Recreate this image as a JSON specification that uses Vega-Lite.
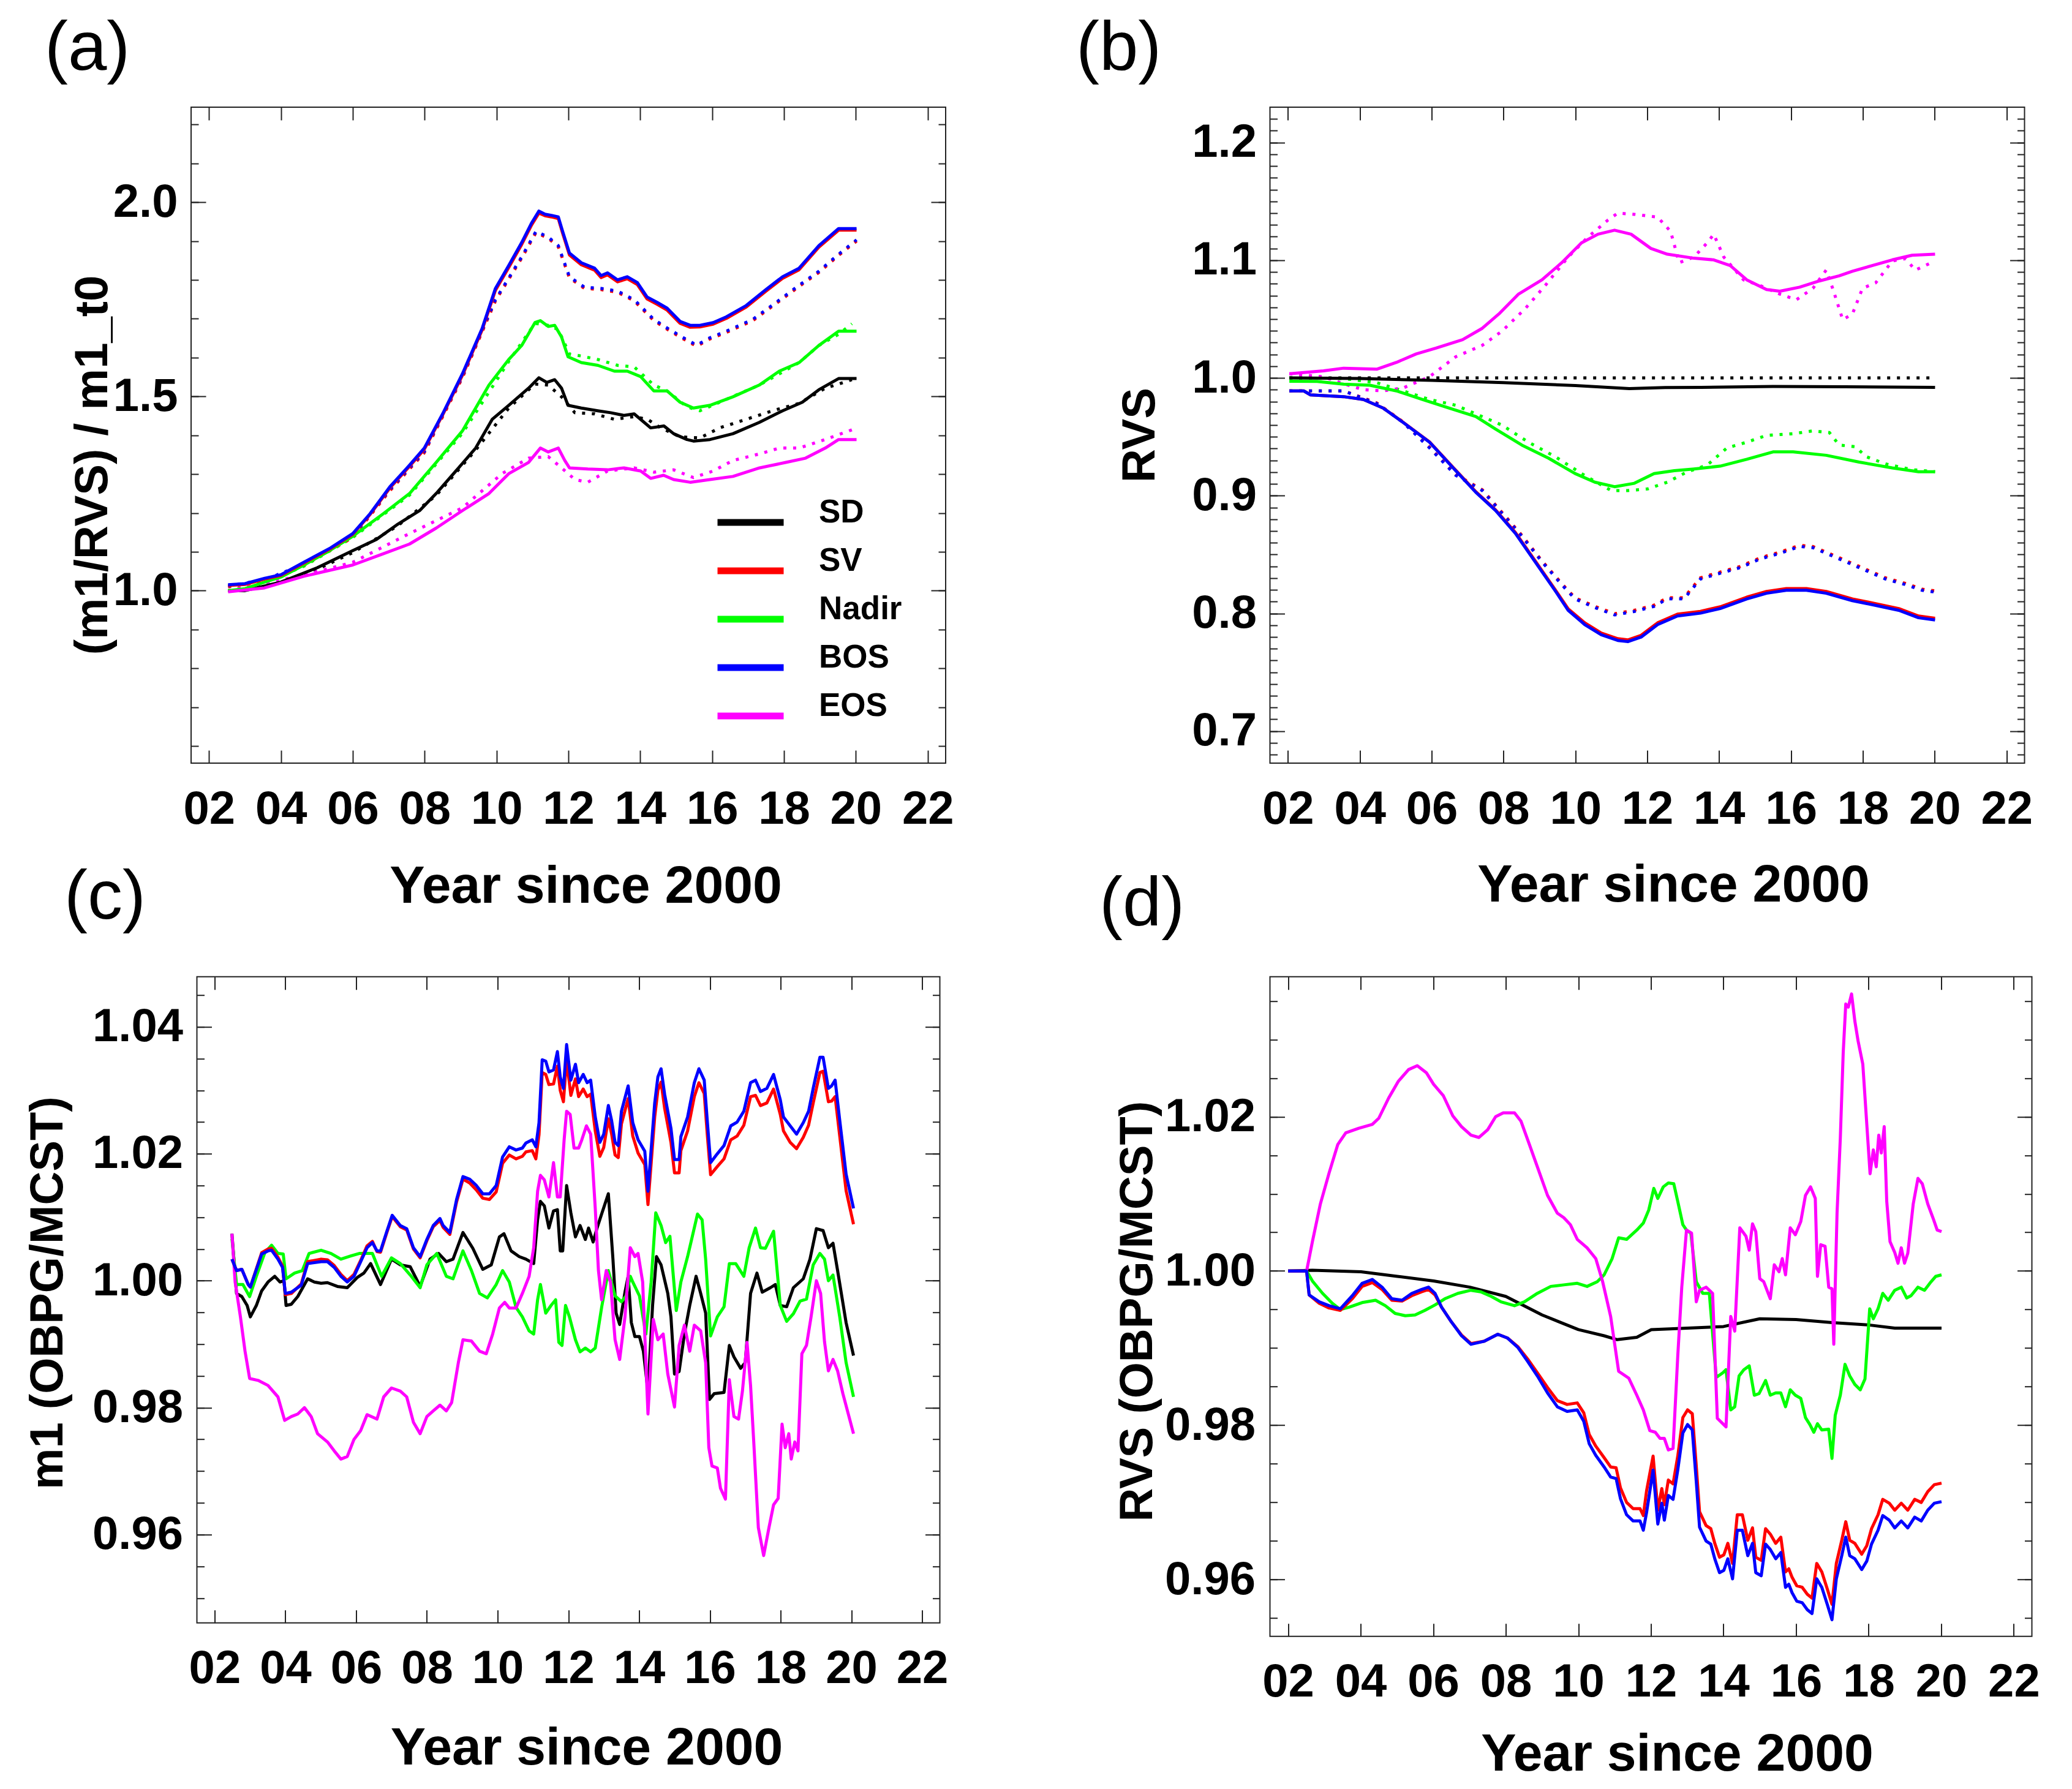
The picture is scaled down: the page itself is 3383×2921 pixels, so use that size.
{
"$schema":"https://vega.github.io/schema/vega-lite/v6.json",
"background":"white",
"padding":{"left":39,"top":22,"right":5,"bottom":0},
"datasets":{
"a_solid":[
{"s":"SD","x":2.53,"y":1.0},{"s":"SD","x":3.0,"y":1.0},{"s":"SD","x":4.0,"y":1.022},{"s":"SD","x":5.01,"y":1.059},{"s":"SD","x":6.0,"y":1.103},{"s":"SD","x":6.66,"y":1.132},{"s":"SD","x":7.22,"y":1.169},{"s":"SD","x":7.86,"y":1.206},{"s":"SD","x":8.32,"y":1.25},{"s":"SD","x":8.87,"y":1.308},{"s":"SD","x":9.42,"y":1.367},{"s":"SD","x":9.88,"y":1.441},{"s":"SD","x":10.34,"y":1.477},{"s":"SD","x":10.89,"y":1.521},{"s":"SD","x":11.18,"y":1.548},{"s":"SD","x":11.4,"y":1.536},{"s":"SD","x":11.62,"y":1.543},{"s":"SD","x":11.81,"y":1.521},{"s":"SD","x":11.99,"y":1.477},{"s":"SD","x":12.36,"y":1.47},{"s":"SD","x":12.82,"y":1.463},{"s":"SD","x":13.18,"y":1.458},{"s":"SD","x":13.55,"y":1.451},{"s":"SD","x":13.83,"y":1.455},{"s":"SD","x":14.29,"y":1.419},{"s":"SD","x":14.66,"y":1.424},{"s":"SD","x":14.93,"y":1.404},{"s":"SD","x":15.3,"y":1.389},{"s":"SD","x":15.48,"y":1.385},{"s":"SD","x":15.94,"y":1.389},{"s":"SD","x":16.58,"y":1.404},{"s":"SD","x":17.31,"y":1.433},{"s":"SD","x":17.96,"y":1.463},{"s":"SD","x":18.51,"y":1.485},{"s":"SD","x":18.97,"y":1.517},{"s":"SD","x":19.52,"y":1.546},{"s":"SD","x":20.02,"y":1.546},
{"s":"Nadir","x":2.53,"y":1.0},{"s":"Nadir","x":3.0,"y":1.005},{"s":"Nadir","x":3.55,"y":1.022},{"s":"Nadir","x":4.0,"y":1.035},{"s":"Nadir","x":4.64,"y":1.066},{"s":"Nadir","x":5.3,"y":1.1},{"s":"Nadir","x":6.0,"y":1.14},{"s":"Nadir","x":6.85,"y":1.198},{"s":"Nadir","x":7.58,"y":1.25},{"s":"Nadir","x":8.32,"y":1.33},{"s":"Nadir","x":9.05,"y":1.411},{"s":"Nadir","x":9.79,"y":1.529},{"s":"Nadir","x":10.34,"y":1.595},{"s":"Nadir","x":10.7,"y":1.631},{"s":"Nadir","x":11.07,"y":1.69},{"s":"Nadir","x":11.22,"y":1.695},{"s":"Nadir","x":11.44,"y":1.68},{"s":"Nadir","x":11.62,"y":1.683},{"s":"Nadir","x":11.81,"y":1.653},{"s":"Nadir","x":11.99,"y":1.602},{"s":"Nadir","x":12.36,"y":1.587},{"s":"Nadir","x":12.82,"y":1.58},{"s":"Nadir","x":13.28,"y":1.565},{"s":"Nadir","x":13.64,"y":1.565},{"s":"Nadir","x":14.01,"y":1.551},{"s":"Nadir","x":14.38,"y":1.514},{"s":"Nadir","x":14.75,"y":1.514},{"s":"Nadir","x":15.11,"y":1.485},{"s":"Nadir","x":15.48,"y":1.47},{"s":"Nadir","x":15.94,"y":1.477},{"s":"Nadir","x":16.58,"y":1.499},{"s":"Nadir","x":17.31,"y":1.529},{"s":"Nadir","x":17.87,"y":1.565},{"s":"Nadir","x":18.42,"y":1.587},{"s":"Nadir","x":18.97,"y":1.631},{"s":"Nadir","x":19.52,"y":1.668},{"s":"Nadir","x":20.02,"y":1.668},
{"s":"EOS","x":2.53,"y":0.997},{"s":"EOS","x":3.54,"y":1.007},{"s":"EOS","x":4.64,"y":1.037},{"s":"EOS","x":6.0,"y":1.066},{"s":"EOS","x":6.85,"y":1.095},{"s":"EOS","x":7.58,"y":1.12},{"s":"EOS","x":8.32,"y":1.161},{"s":"EOS","x":9.05,"y":1.206},{"s":"EOS","x":9.79,"y":1.25},{"s":"EOS","x":10.34,"y":1.301},{"s":"EOS","x":10.89,"y":1.33},{"s":"EOS","x":11.22,"y":1.367},{"s":"EOS","x":11.44,"y":1.357},{"s":"EOS","x":11.72,"y":1.367},{"s":"EOS","x":11.9,"y":1.335},{"s":"EOS","x":12.03,"y":1.316},{"s":"EOS","x":12.54,"y":1.313},{"s":"EOS","x":13.09,"y":1.311},{"s":"EOS","x":13.55,"y":1.316},{"s":"EOS","x":14.01,"y":1.308},{"s":"EOS","x":14.29,"y":1.289},{"s":"EOS","x":14.65,"y":1.297},{"s":"EOS","x":14.93,"y":1.286},{"s":"EOS","x":15.39,"y":1.279},{"s":"EOS","x":15.94,"y":1.286},{"s":"EOS","x":16.58,"y":1.294},{"s":"EOS","x":17.32,"y":1.316},{"s":"EOS","x":18.05,"y":1.33},{"s":"EOS","x":18.6,"y":1.341},{"s":"EOS","x":19.15,"y":1.367},{"s":"EOS","x":19.52,"y":1.389},{"s":"EOS","x":20.02,"y":1.389},
{"s":"SV","x":2.53,"y":1.013},{"s":"SV","x":3.0,"y":1.016},{"s":"SV","x":3.55,"y":1.03},{"s":"SV","x":4.0,"y":1.039},{"s":"SV","x":4.64,"y":1.071},{"s":"SV","x":5.38,"y":1.108},{"s":"SV","x":6.0,"y":1.145},{"s":"SV","x":6.48,"y":1.196},{"s":"SV","x":7.03,"y":1.264},{"s":"SV","x":7.58,"y":1.32},{"s":"SV","x":7.99,"y":1.364},{"s":"SV","x":8.5,"y":1.452},{"s":"SV","x":9.05,"y":1.554},{"s":"SV","x":9.6,"y":1.671},{"s":"SV","x":9.97,"y":1.773},{"s":"SV","x":10.34,"y":1.832},{"s":"SV","x":10.7,"y":1.891},{"s":"SV","x":10.98,"y":1.942},{"s":"SV","x":11.18,"y":1.972},{"s":"SV","x":11.35,"y":1.965},{"s":"SV","x":11.53,"y":1.962},{"s":"SV","x":11.72,"y":1.958},{"s":"SV","x":11.84,"y":1.92},{"s":"SV","x":12.03,"y":1.864},{"s":"SV","x":12.36,"y":1.839},{"s":"SV","x":12.73,"y":1.825},{"s":"SV","x":12.91,"y":1.806},{"s":"SV","x":13.09,"y":1.813},{"s":"SV","x":13.37,"y":1.795},{"s":"SV","x":13.64,"y":1.803},{"s":"SV","x":13.92,"y":1.788},{"s":"SV","x":14.19,"y":1.751},{"s":"SV","x":14.47,"y":1.737},{"s":"SV","x":14.75,"y":1.722},{"s":"SV","x":15.11,"y":1.688},{"s":"SV","x":15.39,"y":1.678},{"s":"SV","x":15.66,"y":1.679},{"s":"SV","x":16.03,"y":1.686},{"s":"SV","x":16.4,"y":1.701},{"s":"SV","x":16.95,"y":1.73},{"s":"SV","x":17.5,"y":1.771},{"s":"SV","x":17.96,"y":1.804},{"s":"SV","x":18.42,"y":1.826},{"s":"SV","x":18.97,"y":1.884},{"s":"SV","x":19.52,"y":1.928},{"s":"SV","x":20.02,"y":1.928},
{"s":"BOS","x":2.53,"y":1.015},{"s":"BOS","x":3.0,"y":1.018},{"s":"BOS","x":3.55,"y":1.032},{"s":"BOS","x":4.0,"y":1.041},{"s":"BOS","x":4.64,"y":1.073},{"s":"BOS","x":5.38,"y":1.11},{"s":"BOS","x":6.0,"y":1.147},{"s":"BOS","x":6.48,"y":1.198},{"s":"BOS","x":7.03,"y":1.267},{"s":"BOS","x":7.58,"y":1.323},{"s":"BOS","x":7.99,"y":1.367},{"s":"BOS","x":8.5,"y":1.455},{"s":"BOS","x":9.05,"y":1.558},{"s":"BOS","x":9.6,"y":1.675},{"s":"BOS","x":9.97,"y":1.778},{"s":"BOS","x":10.34,"y":1.837},{"s":"BOS","x":10.7,"y":1.896},{"s":"BOS","x":10.98,"y":1.947},{"s":"BOS","x":11.18,"y":1.977},{"s":"BOS","x":11.35,"y":1.969},{"s":"BOS","x":11.53,"y":1.966},{"s":"BOS","x":11.72,"y":1.962},{"s":"BOS","x":11.84,"y":1.925},{"s":"BOS","x":12.03,"y":1.869},{"s":"BOS","x":12.36,"y":1.844},{"s":"BOS","x":12.73,"y":1.83},{"s":"BOS","x":12.91,"y":1.811},{"s":"BOS","x":13.09,"y":1.818},{"s":"BOS","x":13.37,"y":1.8},{"s":"BOS","x":13.64,"y":1.808},{"s":"BOS","x":13.92,"y":1.793},{"s":"BOS","x":14.19,"y":1.756},{"s":"BOS","x":14.47,"y":1.742},{"s":"BOS","x":14.75,"y":1.727},{"s":"BOS","x":15.11,"y":1.693},{"s":"BOS","x":15.39,"y":1.683},{"s":"BOS","x":15.66,"y":1.683},{"s":"BOS","x":16.03,"y":1.69},{"s":"BOS","x":16.4,"y":1.705},{"s":"BOS","x":16.95,"y":1.734},{"s":"BOS","x":17.5,"y":1.775},{"s":"BOS","x":17.96,"y":1.808},{"s":"BOS","x":18.42,"y":1.83},{"s":"BOS","x":18.97,"y":1.888},{"s":"BOS","x":19.52,"y":1.932},{"s":"BOS","x":20.02,"y":1.932}
],
"a_dot":[
{"s":"SD","x":2.53,"y":1.0},{"s":"SD","x":4.0,"y":1.02},{"s":"SD","x":5.01,"y":1.055},{"s":"SD","x":6.0,"y":1.098},{"s":"SD","x":7.22,"y":1.165},{"s":"SD","x":8.32,"y":1.245},{"s":"SD","x":9.42,"y":1.362},{"s":"SD","x":10.34,"y":1.47},{"s":"SD","x":11.07,"y":1.532},{"s":"SD","x":11.44,"y":1.529},{"s":"SD","x":11.81,"y":1.499},{"s":"SD","x":12.18,"y":1.458},{"s":"SD","x":12.73,"y":1.455},{"s":"SD","x":13.28,"y":1.441},{"s":"SD","x":13.83,"y":1.448},{"s":"SD","x":14.2,"y":1.441},{"s":"SD","x":14.57,"y":1.419},{"s":"SD","x":15.11,"y":1.396},{"s":"SD","x":15.66,"y":1.393},{"s":"SD","x":16.21,"y":1.419},{"s":"SD","x":16.95,"y":1.441},{"s":"SD","x":17.68,"y":1.463},{"s":"SD","x":18.42,"y":1.482},{"s":"SD","x":19.15,"y":1.521},{"s":"SD","x":19.89,"y":1.543},
{"s":"Nadir","x":2.53,"y":1.0},{"s":"Nadir","x":3.55,"y":1.02},{"s":"Nadir","x":4.64,"y":1.063},{"s":"Nadir","x":6.0,"y":1.137},{"s":"Nadir","x":7.58,"y":1.246},{"s":"Nadir","x":9.05,"y":1.405},{"s":"Nadir","x":10.34,"y":1.59},{"s":"Nadir","x":11.07,"y":1.688},{"s":"Nadir","x":11.44,"y":1.683},{"s":"Nadir","x":11.72,"y":1.672},{"s":"Nadir","x":12.03,"y":1.609},{"s":"Nadir","x":12.36,"y":1.604},{"s":"Nadir","x":12.82,"y":1.595},{"s":"Nadir","x":13.37,"y":1.58},{"s":"Nadir","x":13.83,"y":1.576},{"s":"Nadir","x":14.38,"y":1.529},{"s":"Nadir","x":14.75,"y":1.514},{"s":"Nadir","x":15.3,"y":1.473},{"s":"Nadir","x":15.66,"y":1.463},{"s":"Nadir","x":16.21,"y":1.485},{"s":"Nadir","x":16.76,"y":1.507},{"s":"Nadir","x":17.31,"y":1.529},{"s":"Nadir","x":17.87,"y":1.558},{"s":"Nadir","x":18.42,"y":1.587},{"s":"Nadir","x":18.97,"y":1.631},{"s":"Nadir","x":19.52,"y":1.66},{"s":"Nadir","x":19.89,"y":1.687},
{"s":"EOS","x":2.53,"y":1.0},{"s":"EOS","x":4.64,"y":1.04},{"s":"EOS","x":6.0,"y":1.073},{"s":"EOS","x":7.58,"y":1.147},{"s":"EOS","x":9.05,"y":1.213},{"s":"EOS","x":10.15,"y":1.301},{"s":"EOS","x":10.89,"y":1.341},{"s":"EOS","x":11.44,"y":1.345},{"s":"EOS","x":11.81,"y":1.316},{"s":"EOS","x":12.18,"y":1.286},{"s":"EOS","x":12.54,"y":1.279},{"s":"EOS","x":13.09,"y":1.308},{"s":"EOS","x":13.83,"y":1.316},{"s":"EOS","x":14.38,"y":1.305},{"s":"EOS","x":14.93,"y":1.311},{"s":"EOS","x":15.48,"y":1.291},{"s":"EOS","x":16.03,"y":1.308},{"s":"EOS","x":16.58,"y":1.335},{"s":"EOS","x":17.32,"y":1.352},{"s":"EOS","x":17.87,"y":1.367},{"s":"EOS","x":18.42,"y":1.367},{"s":"EOS","x":19.15,"y":1.389},{"s":"EOS","x":19.89,"y":1.414},
{"s":"SV","x":2.53,"y":1.01},{"s":"SV","x":3.55,"y":1.025},{"s":"SV","x":4.64,"y":1.065},{"s":"SV","x":6.0,"y":1.137},{"s":"SV","x":7.03,"y":1.257},{"s":"SV","x":7.99,"y":1.355},{"s":"SV","x":9.05,"y":1.548},{"s":"SV","x":9.97,"y":1.746},{"s":"SV","x":10.7,"y":1.856},{"s":"SV","x":11.1,"y":1.922},{"s":"SV","x":11.44,"y":1.907},{"s":"SV","x":11.72,"y":1.885},{"s":"SV","x":12.03,"y":1.805},{"s":"SV","x":12.45,"y":1.778},{"s":"SV","x":12.91,"y":1.775},{"s":"SV","x":13.37,"y":1.768},{"s":"SV","x":13.83,"y":1.746},{"s":"SV","x":14.38,"y":1.695},{"s":"SV","x":14.75,"y":1.673},{"s":"SV","x":15.2,"y":1.648},{"s":"SV","x":15.57,"y":1.629},{"s":"SV","x":15.94,"y":1.648},{"s":"SV","x":16.4,"y":1.665},{"s":"SV","x":17.13,"y":1.695},{"s":"SV","x":17.78,"y":1.739},{"s":"SV","x":18.42,"y":1.783},{"s":"SV","x":18.97,"y":1.819},{"s":"SV","x":19.52,"y":1.863},{"s":"SV","x":20.02,"y":1.9},
{"s":"BOS","x":2.53,"y":1.012},{"s":"BOS","x":3.55,"y":1.028},{"s":"BOS","x":4.64,"y":1.068},{"s":"BOS","x":6.0,"y":1.14},{"s":"BOS","x":7.03,"y":1.26},{"s":"BOS","x":7.99,"y":1.358},{"s":"BOS","x":9.05,"y":1.551},{"s":"BOS","x":9.97,"y":1.749},{"s":"BOS","x":10.7,"y":1.859},{"s":"BOS","x":11.1,"y":1.925},{"s":"BOS","x":11.44,"y":1.91},{"s":"BOS","x":11.72,"y":1.888},{"s":"BOS","x":12.03,"y":1.808},{"s":"BOS","x":12.45,"y":1.781},{"s":"BOS","x":12.91,"y":1.778},{"s":"BOS","x":13.37,"y":1.771},{"s":"BOS","x":13.83,"y":1.749},{"s":"BOS","x":14.38,"y":1.698},{"s":"BOS","x":14.75,"y":1.676},{"s":"BOS","x":15.2,"y":1.651},{"s":"BOS","x":15.57,"y":1.632},{"s":"BOS","x":15.94,"y":1.651},{"s":"BOS","x":16.4,"y":1.668},{"s":"BOS","x":17.13,"y":1.698},{"s":"BOS","x":17.78,"y":1.742},{"s":"BOS","x":18.42,"y":1.786},{"s":"BOS","x":18.97,"y":1.822},{"s":"BOS","x":19.52,"y":1.866},{"s":"BOS","x":20.02,"y":1.903}
],
"b_solid":[
{"s":"SD","x":2.04,"y":1.0},{"s":"SD","x":4.0,"y":0.9995},{"s":"SD","x":6.0,"y":0.998},{"s":"SD","x":8.0,"y":0.996},{"s":"SD","x":10.0,"y":0.9935},{"s":"SD","x":11.5,"y":0.991},{"s":"SD","x":12.5,"y":0.9918},{"s":"SD","x":13.5,"y":0.992},{"s":"SD","x":15.5,"y":0.9928},{"s":"SD","x":17.5,"y":0.9925},{"s":"SD","x":20.01,"y":0.992},
{"s":"Nadir","x":2.04,"y":0.9972},{"s":"Nadir","x":2.81,"y":0.997},{"s":"Nadir","x":3.55,"y":0.9947},{"s":"Nadir","x":4.28,"y":0.9938},{"s":"Nadir","x":5.02,"y":0.989},{"s":"Nadir","x":5.75,"y":0.9817},{"s":"Nadir","x":6.49,"y":0.9744},{"s":"Nadir","x":7.23,"y":0.9672},{"s":"Nadir","x":7.78,"y":0.9565},{"s":"Nadir","x":8.51,"y":0.943},{"s":"Nadir","x":9.25,"y":0.9319},{"s":"Nadir","x":9.99,"y":0.9188},{"s":"Nadir","x":10.54,"y":0.9115},{"s":"Nadir","x":11.09,"y":0.9076},{"s":"Nadir","x":11.64,"y":0.9105},{"s":"Nadir","x":12.19,"y":0.9188},{"s":"Nadir","x":12.75,"y":0.9212},{"s":"Nadir","x":13.3,"y":0.9227},{"s":"Nadir","x":14.03,"y":0.9251},{"s":"Nadir","x":14.77,"y":0.9309},{"s":"Nadir","x":15.5,"y":0.9372},{"s":"Nadir","x":16.06,"y":0.9372},{"s":"Nadir","x":16.98,"y":0.9343},{"s":"Nadir","x":17.9,"y":0.9285},{"s":"Nadir","x":18.82,"y":0.9236},{"s":"Nadir","x":19.55,"y":0.9203},{"s":"Nadir","x":20.01,"y":0.9203},
{"s":"EOS","x":2.04,"y":1.0035},{"s":"EOS","x":2.99,"y":1.006},{"s":"EOS","x":3.55,"y":1.0083},{"s":"EOS","x":4.47,"y":1.0074},{"s":"EOS","x":5.02,"y":1.0132},{"s":"EOS","x":5.57,"y":1.0204},{"s":"EOS","x":6.12,"y":1.0253},{"s":"EOS","x":6.86,"y":1.0325},{"s":"EOS","x":7.41,"y":1.0422},{"s":"EOS","x":7.87,"y":1.0543},{"s":"EOS","x":8.42,"y":1.0713},{"s":"EOS","x":9.07,"y":1.0833},{"s":"EOS","x":9.62,"y":1.0979},{"s":"EOS","x":10.17,"y":1.1148},{"s":"EOS","x":10.63,"y":1.1221},{"s":"EOS","x":11.09,"y":1.1255},{"s":"EOS","x":11.55,"y":1.1221},{"s":"EOS","x":12.1,"y":1.11},{"s":"EOS","x":12.56,"y":1.1051},{"s":"EOS","x":13.3,"y":1.1017},{"s":"EOS","x":13.85,"y":1.1003},{"s":"EOS","x":14.31,"y":1.0954},{"s":"EOS","x":14.77,"y":1.0833},{"s":"EOS","x":15.32,"y":1.0751},{"s":"EOS","x":15.69,"y":1.0737},{"s":"EOS","x":16.24,"y":1.0771},{"s":"EOS","x":16.79,"y":1.0824},{"s":"EOS","x":17.34,"y":1.0867},{"s":"EOS","x":17.71,"y":1.0906},{"s":"EOS","x":18.26,"y":1.0954},{"s":"EOS","x":18.82,"y":1.1003},{"s":"EOS","x":19.37,"y":1.1042},{"s":"EOS","x":20.01,"y":1.1051},
{"s":"SV","x":2.04,"y":0.989},{"s":"SV","x":2.44,"y":0.989},{"s":"SV","x":2.63,"y":0.9856},{"s":"SV","x":3.55,"y":0.9841},{"s":"SV","x":4.1,"y":0.9817},{"s":"SV","x":4.65,"y":0.9744},{"s":"SV","x":5.2,"y":0.9625},{"s":"SV","x":5.94,"y":0.9457},{"s":"SV","x":6.67,"y":0.9216},{"s":"SV","x":7.23,"y":0.9033},{"s":"SV","x":7.78,"y":0.8879},{"s":"SV","x":8.33,"y":0.8687},{"s":"SV","x":8.88,"y":0.8446},{"s":"SV","x":9.43,"y":0.8205},{"s":"SV","x":9.8,"y":0.8038},{"s":"SV","x":10.26,"y":0.792},{"s":"SV","x":10.72,"y":0.7833},{"s":"SV","x":11.18,"y":0.7785},{"s":"SV","x":11.46,"y":0.7775},{"s":"SV","x":11.83,"y":0.7814},{"s":"SV","x":12.29,"y":0.792},{"s":"SV","x":12.84,"y":0.7993},{"s":"SV","x":13.48,"y":0.8017},{"s":"SV","x":14.03,"y":0.8056},{"s":"SV","x":14.77,"y":0.8138},{"s":"SV","x":15.32,"y":0.8186},{"s":"SV","x":15.87,"y":0.8211},{"s":"SV","x":16.43,"y":0.8211},{"s":"SV","x":16.98,"y":0.8186},{"s":"SV","x":17.71,"y":0.8123},{"s":"SV","x":18.26,"y":0.8089},{"s":"SV","x":19.0,"y":0.8041},{"s":"SV","x":19.55,"y":0.7978},{"s":"SV","x":20.01,"y":0.7959},
{"s":"BOS","x":2.04,"y":0.989},{"s":"BOS","x":2.44,"y":0.989},{"s":"BOS","x":2.63,"y":0.9856},{"s":"BOS","x":3.55,"y":0.9841},{"s":"BOS","x":4.1,"y":0.9817},{"s":"BOS","x":4.65,"y":0.9744},{"s":"BOS","x":5.2,"y":0.9623},{"s":"BOS","x":5.94,"y":0.9454},{"s":"BOS","x":6.67,"y":0.9212},{"s":"BOS","x":7.23,"y":0.9028},{"s":"BOS","x":7.78,"y":0.8873},{"s":"BOS","x":8.33,"y":0.868},{"s":"BOS","x":8.88,"y":0.8438},{"s":"BOS","x":9.43,"y":0.8196},{"s":"BOS","x":9.8,"y":0.8026},{"s":"BOS","x":10.26,"y":0.7905},{"s":"BOS","x":10.72,"y":0.7818},{"s":"BOS","x":11.18,"y":0.777},{"s":"BOS","x":11.46,"y":0.776},{"s":"BOS","x":11.83,"y":0.7799},{"s":"BOS","x":12.29,"y":0.7905},{"s":"BOS","x":12.84,"y":0.7978},{"s":"BOS","x":13.48,"y":0.8002},{"s":"BOS","x":14.03,"y":0.8041},{"s":"BOS","x":14.77,"y":0.8123},{"s":"BOS","x":15.32,"y":0.8171},{"s":"BOS","x":15.87,"y":0.8196},{"s":"BOS","x":16.43,"y":0.8196},{"s":"BOS","x":16.98,"y":0.8171},{"s":"BOS","x":17.71,"y":0.8108},{"s":"BOS","x":18.26,"y":0.8074},{"s":"BOS","x":19.0,"y":0.8026},{"s":"BOS","x":19.55,"y":0.7963},{"s":"BOS","x":20.01,"y":0.7944}
],
"b_dot":[
{"s":"SD","x":2.04,"y":1.0},{"s":"SD","x":20.01,"y":1.0},
{"s":"Nadir","x":2.04,"y":1.0},{"s":"Nadir","x":3.55,"y":0.9995},{"s":"Nadir","x":4.47,"y":0.996},{"s":"Nadir","x":5.2,"y":0.989},{"s":"Nadir","x":5.94,"y":0.9817},{"s":"Nadir","x":6.67,"y":0.9768},{"s":"Nadir","x":7.41,"y":0.9671},{"s":"Nadir","x":7.96,"y":0.9599},{"s":"Nadir","x":8.7,"y":0.9453},{"s":"Nadir","x":9.43,"y":0.9333},{"s":"Nadir","x":10.17,"y":0.9188},{"s":"Nadir","x":10.72,"y":0.9091},{"s":"Nadir","x":11.0,"y":0.9043},{"s":"Nadir","x":11.46,"y":0.9043},{"s":"Nadir","x":12.01,"y":0.9057},{"s":"Nadir","x":12.56,"y":0.9115},{"s":"Nadir","x":13.11,"y":0.9202},{"s":"Nadir","x":13.67,"y":0.926},{"s":"Nadir","x":14.22,"y":0.9406},{"s":"Nadir","x":14.77,"y":0.9454},{"s":"Nadir","x":15.32,"y":0.9512},{"s":"Nadir","x":16.06,"y":0.9526},{"s":"Nadir","x":16.61,"y":0.955},{"s":"Nadir","x":17.07,"y":0.9536},{"s":"Nadir","x":17.34,"y":0.943},{"s":"Nadir","x":17.8,"y":0.9415},{"s":"Nadir","x":18.08,"y":0.9333},{"s":"Nadir","x":18.63,"y":0.927},{"s":"Nadir","x":19.37,"y":0.9221},{"s":"Nadir","x":20.01,"y":0.9203},
{"s":"EOS","x":2.04,"y":1.0035},{"s":"EOS","x":2.99,"y":1.001},{"s":"EOS","x":3.55,"y":0.995},{"s":"EOS","x":4.1,"y":0.99},{"s":"EOS","x":4.65,"y":0.989},{"s":"EOS","x":5.2,"y":0.9914},{"s":"EOS","x":5.94,"y":1.001},{"s":"EOS","x":6.67,"y":1.018},{"s":"EOS","x":7.41,"y":1.0277},{"s":"EOS","x":7.96,"y":1.0398},{"s":"EOS","x":8.61,"y":1.0591},{"s":"EOS","x":9.16,"y":1.0785},{"s":"EOS","x":9.8,"y":1.1027},{"s":"EOS","x":10.35,"y":1.1197},{"s":"EOS","x":10.91,"y":1.1342},{"s":"EOS","x":11.18,"y":1.14},{"s":"EOS","x":11.64,"y":1.139},{"s":"EOS","x":12.29,"y":1.1366},{"s":"EOS","x":12.65,"y":1.1245},{"s":"EOS","x":12.89,"y":1.0979},{"s":"EOS","x":13.3,"y":1.1027},{"s":"EOS","x":13.67,"y":1.1148},{"s":"EOS","x":13.85,"y":1.1221},{"s":"EOS","x":14.13,"y":1.1027},{"s":"EOS","x":14.68,"y":1.0833},{"s":"EOS","x":15.14,"y":1.0785},{"s":"EOS","x":15.69,"y":1.0712},{"s":"EOS","x":16.15,"y":1.0664},{"s":"EOS","x":16.61,"y":1.0761},{"s":"EOS","x":16.98,"y":1.0916},{"s":"EOS","x":17.16,"y":1.0761},{"s":"EOS","x":17.44,"y":1.0495},{"s":"EOS","x":17.71,"y":1.0543},{"s":"EOS","x":17.99,"y":1.0761},{"s":"EOS","x":18.36,"y":1.0809},{"s":"EOS","x":18.82,"y":1.0994},{"s":"EOS","x":19.19,"y":1.1013},{"s":"EOS","x":19.46,"y":1.0916},{"s":"EOS","x":20.01,"y":1.0994},
{"s":"SV","x":2.04,"y":0.989},{"s":"SV","x":3.55,"y":0.989},{"s":"SV","x":4.47,"y":0.9788},{"s":"SV","x":5.2,"y":0.9628},{"s":"SV","x":5.94,"y":0.9412},{"s":"SV","x":6.67,"y":0.918},{"s":"SV","x":7.41,"y":0.905},{"s":"SV","x":7.96,"y":0.8857},{"s":"SV","x":8.51,"y":0.8663},{"s":"SV","x":9.07,"y":0.8446},{"s":"SV","x":9.62,"y":0.8253},{"s":"SV","x":9.99,"y":0.8132},{"s":"SV","x":10.54,"y":0.806},{"s":"SV","x":11.09,"y":0.7997},{"s":"SV","x":11.64,"y":0.8026},{"s":"SV","x":12.19,"y":0.807},{"s":"SV","x":12.56,"y":0.8133},{"s":"SV","x":13.02,"y":0.8133},{"s":"SV","x":13.48,"y":0.8302},{"s":"SV","x":14.03,"y":0.8351},{"s":"SV","x":14.59,"y":0.8399},{"s":"SV","x":15.14,"y":0.8472},{"s":"SV","x":15.69,"y":0.852},{"s":"SV","x":16.24,"y":0.8578},{"s":"SV","x":16.61,"y":0.8568},{"s":"SV","x":16.98,"y":0.852},{"s":"SV","x":17.53,"y":0.8448},{"s":"SV","x":18.08,"y":0.8375},{"s":"SV","x":18.63,"y":0.8302},{"s":"SV","x":19.19,"y":0.8254},{"s":"SV","x":19.65,"y":0.8206},{"s":"SV","x":20.01,"y":0.8191},
{"s":"BOS","x":2.04,"y":0.989},{"s":"BOS","x":3.55,"y":0.989},{"s":"BOS","x":4.47,"y":0.9783},{"s":"BOS","x":5.2,"y":0.9623},{"s":"BOS","x":5.94,"y":0.9406},{"s":"BOS","x":6.67,"y":0.9173},{"s":"BOS","x":7.41,"y":0.9043},{"s":"BOS","x":7.96,"y":0.8849},{"s":"BOS","x":8.51,"y":0.8655},{"s":"BOS","x":9.07,"y":0.8438},{"s":"BOS","x":9.62,"y":0.8244},{"s":"BOS","x":9.99,"y":0.8123},{"s":"BOS","x":10.54,"y":0.805},{"s":"BOS","x":11.09,"y":0.7987},{"s":"BOS","x":11.64,"y":0.8016},{"s":"BOS","x":12.19,"y":0.806},{"s":"BOS","x":12.56,"y":0.8123},{"s":"BOS","x":13.02,"y":0.8123},{"s":"BOS","x":13.48,"y":0.8292},{"s":"BOS","x":14.03,"y":0.8341},{"s":"BOS","x":14.59,"y":0.8389},{"s":"BOS","x":15.14,"y":0.8462},{"s":"BOS","x":15.69,"y":0.851},{"s":"BOS","x":16.24,"y":0.8568},{"s":"BOS","x":16.61,"y":0.8558},{"s":"BOS","x":16.98,"y":0.851},{"s":"BOS","x":17.53,"y":0.8438},{"s":"BOS","x":18.08,"y":0.8365},{"s":"BOS","x":18.63,"y":0.8292},{"s":"BOS","x":19.19,"y":0.8244},{"s":"BOS","x":19.65,"y":0.8196},{"s":"BOS","x":20.01,"y":0.8181}
],
"c":[
{"s":"SD","x":2.49,"y":1.0074},{"s":"SD","x":2.62,"y":0.998},{"s":"SD","x":2.77,"y":0.9975},{"s":"SD","x":2.92,"y":0.9961},{"s":"SD","x":3.01,"y":0.9943},{"s":"SD","x":3.18,"y":0.9961},{"s":"SD","x":3.33,"y":0.9984},{"s":"SD","x":3.51,"y":0.9998},{"s":"SD","x":3.7,"y":1.0007},{"s":"SD","x":3.85,"y":0.9998},{"s":"SD","x":3.96,"y":1.0},{"s":"SD","x":4.02,"y":0.9961},{"s":"SD","x":4.17,"y":0.9963},{"s":"SD","x":4.35,"y":0.9975},{"s":"SD","x":4.63,"y":1.0003},{"s":"SD","x":4.82,"y":0.9998},{"s":"SD","x":5.01,"y":0.9996},{"s":"SD","x":5.19,"y":0.9997},{"s":"SD","x":5.47,"y":0.9991},{"s":"SD","x":5.75,"y":0.9989},{"s":"SD","x":6.03,"y":1.0005},{"s":"SD","x":6.22,"y":1.0012},{"s":"SD","x":6.41,"y":1.0027},{"s":"SD","x":6.69,"y":0.9994},{"s":"SD","x":7.0,"y":1.0034},{"s":"SD","x":7.25,"y":1.0025},{"s":"SD","x":7.53,"y":1.0022},{"s":"SD","x":7.81,"y":0.9991},{"s":"SD","x":8.09,"y":1.0034},{"s":"SD","x":8.33,"y":1.0043},{"s":"SD","x":8.55,"y":1.003},{"s":"SD","x":8.74,"y":1.0034},{"s":"SD","x":9.02,"y":1.0076},{"s":"SD","x":9.3,"y":1.0051},{"s":"SD","x":9.58,"y":1.0018},{"s":"SD","x":9.82,"y":1.0025},{"s":"SD","x":10.05,"y":1.0069},{"s":"SD","x":10.18,"y":1.0074},{"s":"SD","x":10.38,"y":1.0047},{"s":"SD","x":10.61,"y":1.0038},{"s":"SD","x":10.8,"y":1.0034},{"s":"SD","x":11.02,"y":1.0027},{"s":"SD","x":11.13,"y":1.0096},{"s":"SD","x":11.21,"y":1.0125},{"s":"SD","x":11.32,"y":1.0118},{"s":"SD","x":11.45,"y":1.0083},{"s":"SD","x":11.58,"y":1.011},{"s":"SD","x":11.69,"y":1.0112},{"s":"SD","x":11.77,"y":1.0047},{"s":"SD","x":11.84,"y":1.0047},{"s":"SD","x":11.95,"y":1.015},{"s":"SD","x":12.07,"y":1.0107},{"s":"SD","x":12.2,"y":1.0069},{"s":"SD","x":12.33,"y":1.0087},{"s":"SD","x":12.48,"y":1.0065},{"s":"SD","x":12.57,"y":1.0083},{"s":"SD","x":12.7,"y":1.0061},{"s":"SD","x":12.81,"y":1.0083},{"s":"SD","x":12.94,"y":1.0105},{"s":"SD","x":13.13,"y":1.0137},{"s":"SD","x":13.26,"y":1.0034},{"s":"SD","x":13.35,"y":0.9949},{"s":"SD","x":13.45,"y":0.9931},{"s":"SD","x":13.6,"y":0.9982},{"s":"SD","x":13.69,"y":1.0007},{"s":"SD","x":13.78,"y":0.9934},{"s":"SD","x":13.88,"y":0.9912},{"s":"SD","x":14.01,"y":0.9912},{"s":"SD","x":14.12,"y":0.9889},{"s":"SD","x":14.25,"y":0.9826},{"s":"SD","x":14.38,"y":0.9961},{"s":"SD","x":14.49,"y":1.0038},{"s":"SD","x":14.62,"y":1.0025},{"s":"SD","x":14.81,"y":0.998},{"s":"SD","x":14.9,"y":0.9943},{"s":"SD","x":15.0,"y":0.9853},{"s":"SD","x":15.13,"y":0.9857},{"s":"SD","x":15.28,"y":0.9916},{"s":"SD","x":15.43,"y":0.9961},{"s":"SD","x":15.61,"y":1.0007},{"s":"SD","x":15.74,"y":0.998},{"s":"SD","x":15.88,"y":0.9949},{"s":"SD","x":15.99,"y":0.9813},{"s":"SD","x":16.12,"y":0.9822},{"s":"SD","x":16.4,"y":0.9824},{"s":"SD","x":16.55,"y":0.9898},{"s":"SD","x":16.68,"y":0.988},{"s":"SD","x":16.87,"y":0.9862},{"s":"SD","x":17.0,"y":0.9871},{"s":"SD","x":17.15,"y":0.998},{"s":"SD","x":17.33,"y":1.0012},{"s":"SD","x":17.48,"y":0.9982},{"s":"SD","x":17.71,"y":0.9989},{"s":"SD","x":17.85,"y":0.9994},{"s":"SD","x":17.99,"y":0.9961},{"s":"SD","x":18.17,"y":0.9959},{"s":"SD","x":18.36,"y":0.9989},{"s":"SD","x":18.64,"y":1.0003},{"s":"SD","x":18.83,"y":1.0034},{"s":"SD","x":19.01,"y":1.0082},{"s":"SD","x":19.2,"y":1.0079},{"s":"SD","x":19.35,"y":1.0052},{"s":"SD","x":19.48,"y":1.0059},{"s":"SD","x":19.61,"y":1.0016},{"s":"SD","x":19.85,"y":0.9934},{"s":"SD","x":20.06,"y":0.9882},
{"s":"Nadir","x":2.49,"y":1.0066},{"s":"Nadir","x":2.62,"y":0.9994},{"s":"Nadir","x":2.8,"y":0.9994},{"s":"Nadir","x":2.99,"y":0.9975},{"s":"Nadir","x":3.18,"y":1.0007},{"s":"Nadir","x":3.42,"y":1.0044},{"s":"Nadir","x":3.61,"y":1.0056},{"s":"Nadir","x":3.79,"y":1.0043},{"s":"Nadir","x":3.94,"y":1.0042},{"s":"Nadir","x":4.02,"y":1.0003},{"s":"Nadir","x":4.26,"y":1.0012},{"s":"Nadir","x":4.48,"y":1.0016},{"s":"Nadir","x":4.67,"y":1.0043},{"s":"Nadir","x":5.01,"y":1.0048},{"s":"Nadir","x":5.29,"y":1.0043},{"s":"Nadir","x":5.57,"y":1.0034},{"s":"Nadir","x":5.85,"y":1.0039},{"s":"Nadir","x":6.09,"y":1.0043},{"s":"Nadir","x":6.31,"y":1.0043},{"s":"Nadir","x":6.46,"y":1.0043},{"s":"Nadir","x":6.72,"y":1.0007},{"s":"Nadir","x":7.0,"y":1.0036},{"s":"Nadir","x":7.25,"y":1.0027},{"s":"Nadir","x":7.53,"y":1.0009},{"s":"Nadir","x":7.81,"y":0.9989},{"s":"Nadir","x":8.0,"y":1.0025},{"s":"Nadir","x":8.28,"y":1.0043},{"s":"Nadir","x":8.55,"y":1.0007},{"s":"Nadir","x":8.74,"y":1.0003},{"s":"Nadir","x":9.02,"y":1.0047},{"s":"Nadir","x":9.26,"y":1.0016},{"s":"Nadir","x":9.49,"y":0.998},{"s":"Nadir","x":9.71,"y":0.9973},{"s":"Nadir","x":9.96,"y":0.9994},{"s":"Nadir","x":10.14,"y":1.0016},{"s":"Nadir","x":10.33,"y":0.9998},{"s":"Nadir","x":10.52,"y":0.9958},{"s":"Nadir","x":10.7,"y":0.9943},{"s":"Nadir","x":10.89,"y":0.9921},{"s":"Nadir","x":11.02,"y":0.9916},{"s":"Nadir","x":11.13,"y":0.997},{"s":"Nadir","x":11.21,"y":0.9994},{"s":"Nadir","x":11.36,"y":0.9949},{"s":"Nadir","x":11.51,"y":0.9961},{"s":"Nadir","x":11.64,"y":0.997},{"s":"Nadir","x":11.73,"y":0.9903},{"s":"Nadir","x":11.82,"y":0.9898},{"s":"Nadir","x":11.92,"y":0.9961},{"s":"Nadir","x":12.03,"y":0.9943},{"s":"Nadir","x":12.2,"y":0.9907},{"s":"Nadir","x":12.33,"y":0.9888},{"s":"Nadir","x":12.48,"y":0.9894},{"s":"Nadir","x":12.63,"y":0.9888},{"s":"Nadir","x":12.76,"y":0.9894},{"s":"Nadir","x":12.94,"y":0.9958},{"s":"Nadir","x":13.13,"y":1.0016},{"s":"Nadir","x":13.32,"y":0.9976},{"s":"Nadir","x":13.5,"y":0.9967},{"s":"Nadir","x":13.63,"y":0.9976},{"s":"Nadir","x":13.75,"y":1.0007},{"s":"Nadir","x":13.82,"y":0.9998},{"s":"Nadir","x":14.01,"y":0.9976},{"s":"Nadir","x":14.19,"y":0.9916},{"s":"Nadir","x":14.34,"y":0.9998},{"s":"Nadir","x":14.47,"y":1.0107},{"s":"Nadir","x":14.62,"y":1.0087},{"s":"Nadir","x":14.75,"y":1.006},{"s":"Nadir","x":14.87,"y":1.007},{"s":"Nadir","x":15.05,"y":0.9953},{"s":"Nadir","x":15.18,"y":0.9998},{"s":"Nadir","x":15.37,"y":1.0038},{"s":"Nadir","x":15.5,"y":1.0069},{"s":"Nadir","x":15.65,"y":1.0105},{"s":"Nadir","x":15.78,"y":1.0096},{"s":"Nadir","x":15.88,"y":1.0034},{"s":"Nadir","x":16.02,"y":0.9913},{"s":"Nadir","x":16.21,"y":0.9943},{"s":"Nadir","x":16.4,"y":0.9959},{"s":"Nadir","x":16.55,"y":1.0027},{"s":"Nadir","x":16.73,"y":1.0027},{"s":"Nadir","x":16.96,"y":1.0007},{"s":"Nadir","x":17.11,"y":1.0052},{"s":"Nadir","x":17.29,"y":1.0083},{"s":"Nadir","x":17.43,"y":1.0052},{"s":"Nadir","x":17.57,"y":1.0051},{"s":"Nadir","x":17.8,"y":1.0078},{"s":"Nadir","x":17.99,"y":0.9961},{"s":"Nadir","x":18.17,"y":0.9936},{"s":"Nadir","x":18.36,"y":0.9948},{"s":"Nadir","x":18.55,"y":0.9968},{"s":"Nadir","x":18.73,"y":0.9971},{"s":"Nadir","x":18.92,"y":1.0025},{"s":"Nadir","x":19.11,"y":1.0043},{"s":"Nadir","x":19.24,"y":1.0034},{"s":"Nadir","x":19.35,"y":1.0},{"s":"Nadir","x":19.48,"y":1.0009},{"s":"Nadir","x":19.67,"y":0.9943},{"s":"Nadir","x":19.85,"y":0.9871},{"s":"Nadir","x":20.06,"y":0.9817},
{"s":"EOS","x":2.49,"y":1.0074},{"s":"EOS","x":2.58,"y":0.9998},{"s":"EOS","x":2.73,"y":0.9943},{"s":"EOS","x":2.86,"y":0.9889},{"s":"EOS","x":2.99,"y":0.9846},{"s":"EOS","x":3.23,"y":0.9843},{"s":"EOS","x":3.51,"y":0.9835},{"s":"EOS","x":3.79,"y":0.9817},{"s":"EOS","x":3.98,"y":0.978},{"s":"EOS","x":4.17,"y":0.9786},{"s":"EOS","x":4.35,"y":0.979},{"s":"EOS","x":4.54,"y":0.98},{"s":"EOS","x":4.73,"y":0.9786},{"s":"EOS","x":4.91,"y":0.9759},{"s":"EOS","x":5.19,"y":0.9746},{"s":"EOS","x":5.38,"y":0.9732},{"s":"EOS","x":5.57,"y":0.9719},{"s":"EOS","x":5.75,"y":0.9723},{"s":"EOS","x":5.94,"y":0.975},{"s":"EOS","x":6.13,"y":0.9764},{"s":"EOS","x":6.31,"y":0.9789},{"s":"EOS","x":6.59,"y":0.9782},{"s":"EOS","x":6.78,"y":0.9817},{"s":"EOS","x":7.0,"y":0.9831},{"s":"EOS","x":7.25,"y":0.9826},{"s":"EOS","x":7.43,"y":0.9817},{"s":"EOS","x":7.62,"y":0.9777},{"s":"EOS","x":7.81,"y":0.9759},{"s":"EOS","x":8.0,"y":0.9786},{"s":"EOS","x":8.18,"y":0.9795},{"s":"EOS","x":8.37,"y":0.9804},{"s":"EOS","x":8.55,"y":0.9795},{"s":"EOS","x":8.7,"y":0.9808},{"s":"EOS","x":8.89,"y":0.9871},{"s":"EOS","x":9.02,"y":0.9907},{"s":"EOS","x":9.26,"y":0.9905},{"s":"EOS","x":9.49,"y":0.9889},{"s":"EOS","x":9.68,"y":0.9885},{"s":"EOS","x":9.86,"y":0.9916},{"s":"EOS","x":10.05,"y":0.9957},{"s":"EOS","x":10.2,"y":0.9966},{"s":"EOS","x":10.33,"y":0.9957},{"s":"EOS","x":10.52,"y":0.9957},{"s":"EOS","x":10.7,"y":0.998},{"s":"EOS","x":10.89,"y":1.0007},{"s":"EOS","x":11.02,"y":1.0052},{"s":"EOS","x":11.13,"y":1.0141},{"s":"EOS","x":11.21,"y":1.0166},{"s":"EOS","x":11.32,"y":1.0159},{"s":"EOS","x":11.45,"y":1.0132},{"s":"EOS","x":11.58,"y":1.0186},{"s":"EOS","x":11.69,"y":1.0132},{"s":"EOS","x":11.77,"y":1.0132},{"s":"EOS","x":11.88,"y":1.0222},{"s":"EOS","x":11.95,"y":1.0267},{"s":"EOS","x":12.05,"y":1.0262},{"s":"EOS","x":12.16,"y":1.0209},{"s":"EOS","x":12.29,"y":1.0209},{"s":"EOS","x":12.38,"y":1.0222},{"s":"EOS","x":12.51,"y":1.0244},{"s":"EOS","x":12.63,"y":1.0231},{"s":"EOS","x":12.76,"y":1.0114},{"s":"EOS","x":12.85,"y":1.0016},{"s":"EOS","x":12.94,"y":0.997},{"s":"EOS","x":13.07,"y":1.0016},{"s":"EOS","x":13.19,"y":0.9998},{"s":"EOS","x":13.32,"y":0.9907},{"s":"EOS","x":13.45,"y":0.9876},{"s":"EOS","x":13.6,"y":0.9943},{"s":"EOS","x":13.75,"y":1.0052},{"s":"EOS","x":13.88,"y":1.0038},{"s":"EOS","x":13.97,"y":1.0043},{"s":"EOS","x":14.1,"y":0.9998},{"s":"EOS","x":14.25,"y":0.979},{"s":"EOS","x":14.4,"y":0.9939},{"s":"EOS","x":14.53,"y":0.9907},{"s":"EOS","x":14.68,"y":0.9916},{"s":"EOS","x":14.81,"y":0.9853},{"s":"EOS","x":15.0,"y":0.9801},{"s":"EOS","x":15.13,"y":0.9898},{"s":"EOS","x":15.28,"y":0.993},{"s":"EOS","x":15.43,"y":0.9889},{"s":"EOS","x":15.56,"y":0.993},{"s":"EOS","x":15.74,"y":0.9921},{"s":"EOS","x":15.88,"y":0.9871},{"s":"EOS","x":15.97,"y":0.9737},{"s":"EOS","x":16.06,"y":0.9708},{"s":"EOS","x":16.21,"y":0.9705},{"s":"EOS","x":16.3,"y":0.9673},{"s":"EOS","x":16.44,"y":0.9656},{"s":"EOS","x":16.55,"y":0.9844},{"s":"EOS","x":16.68,"y":0.9786},{"s":"EOS","x":16.81,"y":0.9782},{"s":"EOS","x":16.92,"y":0.9826},{"s":"EOS","x":17.05,"y":0.9903},{"s":"EOS","x":17.15,"y":0.9835},{"s":"EOS","x":17.24,"y":0.9746},{"s":"EOS","x":17.37,"y":0.9611},{"s":"EOS","x":17.52,"y":0.9567},{"s":"EOS","x":17.67,"y":0.9611},{"s":"EOS","x":17.8,"y":0.9647},{"s":"EOS","x":17.93,"y":0.9657},{"s":"EOS","x":18.04,"y":0.9774},{"s":"EOS","x":18.13,"y":0.9737},{"s":"EOS","x":18.23,"y":0.9759},{"s":"EOS","x":18.3,"y":0.9719},{"s":"EOS","x":18.4,"y":0.9746},{"s":"EOS","x":18.49,"y":0.9732},{"s":"EOS","x":18.6,"y":0.9885},{"s":"EOS","x":18.73,"y":0.9898},{"s":"EOS","x":18.86,"y":0.9943},{"s":"EOS","x":19.01,"y":1.0},{"s":"EOS","x":19.13,"y":0.998},{"s":"EOS","x":19.24,"y":0.9904},{"s":"EOS","x":19.35,"y":0.9858},{"s":"EOS","x":19.48,"y":0.9876},{"s":"EOS","x":19.61,"y":0.9858},{"s":"EOS","x":19.76,"y":0.9822},{"s":"EOS","x":20.06,"y":0.9759},
{"s":"SV","x":2.49,"y":1.0034},{"s":"SV","x":2.62,"y":1.0016},{"s":"SV","x":2.77,"y":1.0018},{"s":"SV","x":2.95,"y":0.9994},{"s":"SV","x":3.01,"y":0.999},{"s":"SV","x":3.33,"y":1.0044},{"s":"SV","x":3.51,"y":1.005},{"s":"SV","x":3.61,"y":1.0051},{"s":"SV","x":3.79,"y":1.0037},{"s":"SV","x":3.92,"y":1.0023},{"s":"SV","x":4.0,"y":0.9978},{"s":"SV","x":4.17,"y":0.998},{"s":"SV","x":4.45,"y":0.9995},{"s":"SV","x":4.63,"y":1.003},{"s":"SV","x":5.01,"y":1.0034},{"s":"SV","x":5.19,"y":1.0033},{"s":"SV","x":5.38,"y":1.0024},{"s":"SV","x":5.57,"y":1.001},{"s":"SV","x":5.75,"y":1.0},{"s":"SV","x":5.94,"y":1.001},{"s":"SV","x":6.13,"y":1.0032},{"s":"SV","x":6.31,"y":1.0055},{"s":"SV","x":6.46,"y":1.0062},{"s":"SV","x":6.59,"y":1.0046},{"s":"SV","x":6.69,"y":1.0045},{"s":"SV","x":6.87,"y":1.0076},{"s":"SV","x":7.02,"y":1.0101},{"s":"SV","x":7.25,"y":1.0085},{"s":"SV","x":7.43,"y":1.008},{"s":"SV","x":7.62,"y":1.005},{"s":"SV","x":7.81,"y":1.0036},{"s":"SV","x":8.0,"y":1.0063},{"s":"SV","x":8.18,"y":1.0085},{"s":"SV","x":8.37,"y":1.0095},{"s":"SV","x":8.46,"y":1.0084},{"s":"SV","x":8.65,"y":1.0073},{"s":"SV","x":8.84,"y":1.0124},{"s":"SV","x":9.02,"y":1.016},{"s":"SV","x":9.21,"y":1.0154},{"s":"SV","x":9.4,"y":1.0143},{"s":"SV","x":9.58,"y":1.013},{"s":"SV","x":9.77,"y":1.0128},{"s":"SV","x":9.96,"y":1.014},{"s":"SV","x":10.14,"y":1.0185},{"s":"SV","x":10.33,"y":1.0198},{"s":"SV","x":10.52,"y":1.0192},{"s":"SV","x":10.7,"y":1.0196},{"s":"SV","x":10.8,"y":1.0203},{"s":"SV","x":10.98,"y":1.0205},{"s":"SV","x":11.08,"y":1.0192},{"s":"SV","x":11.17,"y":1.023},{"s":"SV","x":11.26,"y":1.0328},{"s":"SV","x":11.36,"y":1.0325},{"s":"SV","x":11.45,"y":1.0309},{"s":"SV","x":11.58,"y":1.031},{"s":"SV","x":11.69,"y":1.0338},{"s":"SV","x":11.77,"y":1.03},{"s":"SV","x":11.86,"y":1.0282},{"s":"SV","x":11.95,"y":1.0348},{"s":"SV","x":12.07,"y":1.0292},{"s":"SV","x":12.2,"y":1.0318},{"s":"SV","x":12.29,"y":1.029},{"s":"SV","x":12.42,"y":1.0302},{"s":"SV","x":12.53,"y":1.029},{"s":"SV","x":12.63,"y":1.0294},{"s":"SV","x":12.76,"y":1.0236},{"s":"SV","x":12.89,"y":1.0196},{"s":"SV","x":13.0,"y":1.021},{"s":"SV","x":13.13,"y":1.0255},{"s":"SV","x":13.22,"y":1.0232},{"s":"SV","x":13.32,"y":1.0198},{"s":"SV","x":13.41,"y":1.0194},{"s":"SV","x":13.5,"y":1.0247},{"s":"SV","x":13.69,"y":1.0287},{"s":"SV","x":13.82,"y":1.0228},{"s":"SV","x":13.97,"y":1.0201},{"s":"SV","x":14.16,"y":1.0183},{"s":"SV","x":14.25,"y":1.012},{"s":"SV","x":14.44,"y":1.0258},{"s":"SV","x":14.53,"y":1.03},{"s":"SV","x":14.62,"y":1.0313},{"s":"SV","x":14.72,"y":1.0272},{"s":"SV","x":14.9,"y":1.0218},{"s":"SV","x":15.0,"y":1.017},{"s":"SV","x":15.13,"y":1.017},{"s":"SV","x":15.18,"y":1.0205},{"s":"SV","x":15.37,"y":1.0236},{"s":"SV","x":15.56,"y":1.029},{"s":"SV","x":15.69,"y":1.0312},{"s":"SV","x":15.84,"y":1.0295},{"s":"SV","x":15.93,"y":1.0228},{"s":"SV","x":16.02,"y":1.0167},{"s":"SV","x":16.21,"y":1.018},{"s":"SV","x":16.4,"y":1.0192},{"s":"SV","x":16.59,"y":1.0222},{"s":"SV","x":16.77,"y":1.0228},{"s":"SV","x":16.96,"y":1.0245},{"s":"SV","x":17.15,"y":1.029},{"s":"SV","x":17.29,"y":1.0292},{"s":"SV","x":17.43,"y":1.0276},{"s":"SV","x":17.61,"y":1.028},{"s":"SV","x":17.8,"y":1.0302},{"s":"SV","x":17.99,"y":1.0262},{"s":"SV","x":18.08,"y":1.0236},{"s":"SV","x":18.27,"y":1.0218},{"s":"SV","x":18.45,"y":1.0208},{"s":"SV","x":18.64,"y":1.0226},{"s":"SV","x":18.79,"y":1.0245},{"s":"SV","x":18.92,"y":1.028},{"s":"SV","x":19.11,"y":1.0328},{"s":"SV","x":19.2,"y":1.033},{"s":"SV","x":19.35,"y":1.0282},{"s":"SV","x":19.44,"y":1.0283},{"s":"SV","x":19.54,"y":1.029},{"s":"SV","x":19.67,"y":1.0228},{"s":"SV","x":19.85,"y":1.0142},{"s":"SV","x":20.06,"y":1.0089},
{"s":"BOS","x":2.49,"y":1.0034},{"s":"BOS","x":2.62,"y":1.0016},{"s":"BOS","x":2.77,"y":1.0018},{"s":"BOS","x":2.95,"y":0.9994},{"s":"BOS","x":3.01,"y":0.999},{"s":"BOS","x":3.33,"y":1.0042},{"s":"BOS","x":3.51,"y":1.0047},{"s":"BOS","x":3.61,"y":1.0048},{"s":"BOS","x":3.79,"y":1.0034},{"s":"BOS","x":3.92,"y":1.0021},{"s":"BOS","x":4.0,"y":0.998},{"s":"BOS","x":4.17,"y":0.9982},{"s":"BOS","x":4.45,"y":0.9993},{"s":"BOS","x":4.63,"y":1.0027},{"s":"BOS","x":5.01,"y":1.003},{"s":"BOS","x":5.19,"y":1.003},{"s":"BOS","x":5.38,"y":1.0021},{"s":"BOS","x":5.57,"y":1.0007},{"s":"BOS","x":5.75,"y":0.9998},{"s":"BOS","x":5.94,"y":1.0007},{"s":"BOS","x":6.13,"y":1.003},{"s":"BOS","x":6.31,"y":1.0052},{"s":"BOS","x":6.46,"y":1.006},{"s":"BOS","x":6.59,"y":1.0047},{"s":"BOS","x":6.69,"y":1.0047},{"s":"BOS","x":6.87,"y":1.0078},{"s":"BOS","x":7.02,"y":1.0103},{"s":"BOS","x":7.25,"y":1.0087},{"s":"BOS","x":7.43,"y":1.0082},{"s":"BOS","x":7.62,"y":1.0052},{"s":"BOS","x":7.81,"y":1.0038},{"s":"BOS","x":8.0,"y":1.0065},{"s":"BOS","x":8.18,"y":1.0087},{"s":"BOS","x":8.37,"y":1.0098},{"s":"BOS","x":8.46,"y":1.0087},{"s":"BOS","x":8.65,"y":1.0076},{"s":"BOS","x":8.84,"y":1.0128},{"s":"BOS","x":9.02,"y":1.0164},{"s":"BOS","x":9.21,"y":1.016},{"s":"BOS","x":9.4,"y":1.015},{"s":"BOS","x":9.58,"y":1.0137},{"s":"BOS","x":9.77,"y":1.0137},{"s":"BOS","x":9.96,"y":1.015},{"s":"BOS","x":10.14,"y":1.0195},{"s":"BOS","x":10.33,"y":1.0211},{"s":"BOS","x":10.52,"y":1.0206},{"s":"BOS","x":10.7,"y":1.0209},{"s":"BOS","x":10.8,"y":1.0217},{"s":"BOS","x":10.98,"y":1.0222},{"s":"BOS","x":11.08,"y":1.0211},{"s":"BOS","x":11.17,"y":1.0249},{"s":"BOS","x":11.26,"y":1.0348},{"s":"BOS","x":11.36,"y":1.0346},{"s":"BOS","x":11.45,"y":1.0329},{"s":"BOS","x":11.58,"y":1.0332},{"s":"BOS","x":11.69,"y":1.0361},{"s":"BOS","x":11.77,"y":1.0321},{"s":"BOS","x":11.86,"y":1.0303},{"s":"BOS","x":11.95,"y":1.0372},{"s":"BOS","x":12.07,"y":1.0316},{"s":"BOS","x":12.2,"y":1.0341},{"s":"BOS","x":12.29,"y":1.0312},{"s":"BOS","x":12.42,"y":1.0325},{"s":"BOS","x":12.53,"y":1.0312},{"s":"BOS","x":12.63,"y":1.0316},{"s":"BOS","x":12.76,"y":1.0258},{"s":"BOS","x":12.89,"y":1.0218},{"s":"BOS","x":13.0,"y":1.0231},{"s":"BOS","x":13.13,"y":1.0276},{"s":"BOS","x":13.22,"y":1.0253},{"s":"BOS","x":13.32,"y":1.0218},{"s":"BOS","x":13.41,"y":1.0213},{"s":"BOS","x":13.5,"y":1.0267},{"s":"BOS","x":13.69,"y":1.0307},{"s":"BOS","x":13.82,"y":1.0249},{"s":"BOS","x":13.97,"y":1.0222},{"s":"BOS","x":14.16,"y":1.0204},{"s":"BOS","x":14.25,"y":1.0141},{"s":"BOS","x":14.44,"y":1.028},{"s":"BOS","x":14.53,"y":1.0321},{"s":"BOS","x":14.62,"y":1.0334},{"s":"BOS","x":14.72,"y":1.0294},{"s":"BOS","x":14.9,"y":1.024},{"s":"BOS","x":15.0,"y":1.0191},{"s":"BOS","x":15.13,"y":1.0191},{"s":"BOS","x":15.18,"y":1.0227},{"s":"BOS","x":15.37,"y":1.0258},{"s":"BOS","x":15.56,"y":1.0312},{"s":"BOS","x":15.69,"y":1.0334},{"s":"BOS","x":15.84,"y":1.0316},{"s":"BOS","x":15.93,"y":1.0249},{"s":"BOS","x":16.02,"y":1.0186},{"s":"BOS","x":16.21,"y":1.02},{"s":"BOS","x":16.4,"y":1.0213},{"s":"BOS","x":16.59,"y":1.0244},{"s":"BOS","x":16.77,"y":1.025},{"s":"BOS","x":16.96,"y":1.0267},{"s":"BOS","x":17.15,"y":1.0312},{"s":"BOS","x":17.29,"y":1.0316},{"s":"BOS","x":17.43,"y":1.0298},{"s":"BOS","x":17.61,"y":1.0303},{"s":"BOS","x":17.8,"y":1.0325},{"s":"BOS","x":17.99,"y":1.0285},{"s":"BOS","x":18.08,"y":1.0258},{"s":"BOS","x":18.27,"y":1.0244},{"s":"BOS","x":18.45,"y":1.0231},{"s":"BOS","x":18.64,"y":1.0249},{"s":"BOS","x":18.79,"y":1.0267},{"s":"BOS","x":18.92,"y":1.0303},{"s":"BOS","x":19.11,"y":1.0352},{"s":"BOS","x":19.2,"y":1.0352},{"s":"BOS","x":19.35,"y":1.0303},{"s":"BOS","x":19.44,"y":1.0307},{"s":"BOS","x":19.54,"y":1.0316},{"s":"BOS","x":19.67,"y":1.0253},{"s":"BOS","x":19.85,"y":1.0168},{"s":"BOS","x":20.06,"y":1.0114}
],
"d":[
{"s":"SD","x":2.0,"y":1.0},{"s":"SD","x":2.67,"y":1.0001},{"s":"SD","x":4.01,"y":0.9999},{"s":"SD","x":5.01,"y":0.9993},{"s":"SD","x":6.01,"y":0.9987},{"s":"SD","x":7.01,"y":0.9979},{"s":"SD","x":8.0,"y":0.9967},{"s":"SD","x":9.0,"y":0.9943},{"s":"SD","x":10.0,"y":0.9924},{"s":"SD","x":10.71,"y":0.9916},{"s":"SD","x":11.07,"y":0.9911},{"s":"SD","x":11.61,"y":0.9914},{"s":"SD","x":12.01,"y":0.9924},{"s":"SD","x":12.52,"y":0.9925},{"s":"SD","x":13.01,"y":0.9926},{"s":"SD","x":14.0,"y":0.9928},{"s":"SD","x":15.0,"y":0.9938},{"s":"SD","x":16.0,"y":0.9937},{"s":"SD","x":17.0,"y":0.9933},{"s":"SD","x":18.01,"y":0.993},{"s":"SD","x":18.72,"y":0.9926},{"s":"SD","x":20.01,"y":0.9926},
{"s":"Nadir","x":2.0,"y":1.0},{"s":"Nadir","x":2.51,"y":1.0},{"s":"Nadir","x":2.67,"y":0.9987},{"s":"Nadir","x":2.95,"y":0.9971},{"s":"Nadir","x":3.22,"y":0.9958},{"s":"Nadir","x":3.44,"y":0.995},{"s":"Nadir","x":3.68,"y":0.9953},{"s":"Nadir","x":4.04,"y":0.9959},{"s":"Nadir","x":4.41,"y":0.9962},{"s":"Nadir","x":4.68,"y":0.9955},{"s":"Nadir","x":4.95,"y":0.9945},{"s":"Nadir","x":5.23,"y":0.9942},{"s":"Nadir","x":5.5,"y":0.9943},{"s":"Nadir","x":5.77,"y":0.9949},{"s":"Nadir","x":6.05,"y":0.9956},{"s":"Nadir","x":6.32,"y":0.9964},{"s":"Nadir","x":6.68,"y":0.9971},{"s":"Nadir","x":7.04,"y":0.9975},{"s":"Nadir","x":7.31,"y":0.9973},{"s":"Nadir","x":7.6,"y":0.9967},{"s":"Nadir","x":7.87,"y":0.996},{"s":"Nadir","x":8.24,"y":0.9955},{"s":"Nadir","x":8.51,"y":0.996},{"s":"Nadir","x":8.87,"y":0.9971},{"s":"Nadir","x":9.24,"y":0.998},{"s":"Nadir","x":9.6,"y":0.9982},{"s":"Nadir","x":9.97,"y":0.9984},{"s":"Nadir","x":10.24,"y":0.998},{"s":"Nadir","x":10.52,"y":0.9986},{"s":"Nadir","x":10.71,"y":0.9995},{"s":"Nadir","x":10.93,"y":1.0016},{"s":"Nadir","x":11.11,"y":1.0043},{"s":"Nadir","x":11.33,"y":1.0041},{"s":"Nadir","x":11.61,"y":1.0053},{"s":"Nadir","x":11.79,"y":1.0062},{"s":"Nadir","x":11.94,"y":1.0079},{"s":"Nadir","x":12.08,"y":1.0107},{"s":"Nadir","x":12.19,"y":1.0094},{"s":"Nadir","x":12.34,"y":1.0109},{"s":"Nadir","x":12.48,"y":1.0114},{"s":"Nadir","x":12.63,"y":1.0113},{"s":"Nadir","x":12.74,"y":1.009},{"s":"Nadir","x":12.88,"y":1.006},{"s":"Nadir","x":12.98,"y":1.0053},{"s":"Nadir","x":13.1,"y":1.0049},{"s":"Nadir","x":13.25,"y":0.9986},{"s":"Nadir","x":13.43,"y":0.9971},{"s":"Nadir","x":13.61,"y":0.9971},{"s":"Nadir","x":13.8,"y":0.9862},{"s":"Nadir","x":13.98,"y":0.9868},{"s":"Nadir","x":14.07,"y":0.9872},{"s":"Nadir","x":14.2,"y":0.982},{"s":"Nadir","x":14.31,"y":0.9824},{"s":"Nadir","x":14.43,"y":0.9864},{"s":"Nadir","x":14.56,"y":0.9872},{"s":"Nadir","x":14.71,"y":0.9877},{"s":"Nadir","x":14.85,"y":0.9839},{"s":"Nadir","x":14.98,"y":0.9841},{"s":"Nadir","x":15.16,"y":0.9858},{"s":"Nadir","x":15.29,"y":0.9839},{"s":"Nadir","x":15.44,"y":0.9842},{"s":"Nadir","x":15.58,"y":0.9842},{"s":"Nadir","x":15.71,"y":0.9824},{"s":"Nadir","x":15.84,"y":0.9846},{"s":"Nadir","x":15.98,"y":0.9839},{"s":"Nadir","x":16.13,"y":0.9835},{"s":"Nadir","x":16.26,"y":0.981},{"s":"Nadir","x":16.38,"y":0.9801},{"s":"Nadir","x":16.49,"y":0.9791},{"s":"Nadir","x":16.59,"y":0.9802},{"s":"Nadir","x":16.71,"y":0.9794},{"s":"Nadir","x":16.9,"y":0.9795},{"s":"Nadir","x":16.99,"y":0.9757},{"s":"Nadir","x":17.08,"y":0.9813},{"s":"Nadir","x":17.22,"y":0.9839},{"s":"Nadir","x":17.35,"y":0.9879},{"s":"Nadir","x":17.48,"y":0.9864},{"s":"Nadir","x":17.62,"y":0.9853},{"s":"Nadir","x":17.77,"y":0.9846},{"s":"Nadir","x":17.9,"y":0.986},{"s":"Nadir","x":18.03,"y":0.9951},{"s":"Nadir","x":18.13,"y":0.9938},{"s":"Nadir","x":18.26,"y":0.9951},{"s":"Nadir","x":18.39,"y":0.9971},{"s":"Nadir","x":18.54,"y":0.9962},{"s":"Nadir","x":18.72,"y":0.9975},{"s":"Nadir","x":18.9,"y":0.9979},{"s":"Nadir","x":19.05,"y":0.9965},{"s":"Nadir","x":19.17,"y":0.9968},{"s":"Nadir","x":19.36,"y":0.9979},{"s":"Nadir","x":19.54,"y":0.9975},{"s":"Nadir","x":19.72,"y":0.9986},{"s":"Nadir","x":19.85,"y":0.9993},{"s":"Nadir","x":20.01,"y":0.9995},
{"s":"EOS","x":2.0,"y":1.0},{"s":"EOS","x":2.51,"y":1.0},{"s":"EOS","x":2.67,"y":1.0038},{"s":"EOS","x":2.89,"y":1.0087},{"s":"EOS","x":3.13,"y":1.0127},{"s":"EOS","x":3.37,"y":1.0164},{"s":"EOS","x":3.59,"y":1.0179},{"s":"EOS","x":3.95,"y":1.0185},{"s":"EOS","x":4.32,"y":1.019},{"s":"EOS","x":4.5,"y":1.0198},{"s":"EOS","x":4.77,"y":1.0224},{"s":"EOS","x":5.04,"y":1.0246},{"s":"EOS","x":5.32,"y":1.0261},{"s":"EOS","x":5.56,"y":1.0266},{"s":"EOS","x":5.81,"y":1.0257},{"s":"EOS","x":6.01,"y":1.0242},{"s":"EOS","x":6.28,"y":1.0227},{"s":"EOS","x":6.54,"y":1.0201},{"s":"EOS","x":6.78,"y":1.0187},{"s":"EOS","x":7.04,"y":1.0176},{"s":"EOS","x":7.26,"y":1.0173},{"s":"EOS","x":7.5,"y":1.0183},{"s":"EOS","x":7.72,"y":1.02},{"s":"EOS","x":7.93,"y":1.0205},{"s":"EOS","x":8.24,"y":1.0205},{"s":"EOS","x":8.42,"y":1.0194},{"s":"EOS","x":8.65,"y":1.0164},{"s":"EOS","x":8.87,"y":1.0135},{"s":"EOS","x":9.15,"y":1.0098},{"s":"EOS","x":9.42,"y":1.0075},{"s":"EOS","x":9.6,"y":1.0069},{"s":"EOS","x":9.78,"y":1.006},{"s":"EOS","x":9.97,"y":1.0041},{"s":"EOS","x":10.24,"y":1.003},{"s":"EOS","x":10.48,"y":1.0016},{"s":"EOS","x":10.67,"y":0.9986},{"s":"EOS","x":10.89,"y":0.9941},{"s":"EOS","x":11.11,"y":0.987},{"s":"EOS","x":11.39,"y":0.9861},{"s":"EOS","x":11.61,"y":0.9839},{"s":"EOS","x":11.79,"y":0.982},{"s":"EOS","x":11.97,"y":0.9793},{"s":"EOS","x":12.12,"y":0.9791},{"s":"EOS","x":12.25,"y":0.9783},{"s":"EOS","x":12.37,"y":0.9783},{"s":"EOS","x":12.48,"y":0.9768},{"s":"EOS","x":12.61,"y":0.977},{"s":"EOS","x":12.74,"y":0.989},{"s":"EOS","x":12.85,"y":0.9979},{"s":"EOS","x":12.98,"y":1.0053},{"s":"EOS","x":13.12,"y":1.0049},{"s":"EOS","x":13.25,"y":0.996},{"s":"EOS","x":13.34,"y":0.9975},{"s":"EOS","x":13.52,"y":0.9979},{"s":"EOS","x":13.7,"y":0.9971},{"s":"EOS","x":13.83,"y":0.9809},{"s":"EOS","x":14.07,"y":0.9798},{"s":"EOS","x":14.2,"y":0.9941},{"s":"EOS","x":14.31,"y":0.9922},{"s":"EOS","x":14.45,"y":1.0056},{"s":"EOS","x":14.62,"y":1.0045},{"s":"EOS","x":14.71,"y":1.0027},{"s":"EOS","x":14.8,"y":1.0061},{"s":"EOS","x":14.89,"y":1.0051},{"s":"EOS","x":15.0,"y":0.999},{"s":"EOS","x":15.11,"y":0.9986},{"s":"EOS","x":15.29,"y":0.9964},{"s":"EOS","x":15.4,"y":1.0008},{"s":"EOS","x":15.53,"y":0.9999},{"s":"EOS","x":15.62,"y":1.0016},{"s":"EOS","x":15.71,"y":0.9995},{"s":"EOS","x":15.84,"y":1.0056},{"s":"EOS","x":15.98,"y":1.0047},{"s":"EOS","x":16.13,"y":1.0064},{"s":"EOS","x":16.26,"y":1.0098},{"s":"EOS","x":16.4,"y":1.0109},{"s":"EOS","x":16.53,"y":1.0094},{"s":"EOS","x":16.59,"y":0.9993},{"s":"EOS","x":16.68,"y":1.0034},{"s":"EOS","x":16.8,"y":1.0032},{"s":"EOS","x":16.9,"y":0.9979},{"s":"EOS","x":16.99,"y":0.9977},{"s":"EOS","x":17.04,"y":0.9905},{"s":"EOS","x":17.13,"y":1.0075},{"s":"EOS","x":17.22,"y":1.0172},{"s":"EOS","x":17.3,"y":1.0283},{"s":"EOS","x":17.37,"y":1.0346},{"s":"EOS","x":17.44,"y":1.0342},{"s":"EOS","x":17.53,"y":1.0359},{"s":"EOS","x":17.62,"y":1.0324},{"s":"EOS","x":17.71,"y":1.0298},{"s":"EOS","x":17.84,"y":1.0268},{"s":"EOS","x":17.95,"y":1.019},{"s":"EOS","x":18.04,"y":1.0126},{"s":"EOS","x":18.13,"y":1.0157},{"s":"EOS","x":18.21,"y":1.0135},{"s":"EOS","x":18.28,"y":1.0176},{"s":"EOS","x":18.35,"y":1.0153},{"s":"EOS","x":18.43,"y":1.0187},{"s":"EOS","x":18.5,"y":1.009},{"s":"EOS","x":18.59,"y":1.0038},{"s":"EOS","x":18.72,"y":1.0024},{"s":"EOS","x":18.81,"y":1.001},{"s":"EOS","x":18.9,"y":1.003},{"s":"EOS","x":18.99,"y":1.001},{"s":"EOS","x":19.08,"y":1.0023},{"s":"EOS","x":19.23,"y":1.0087},{"s":"EOS","x":19.36,"y":1.012},{"s":"EOS","x":19.48,"y":1.0113},{"s":"EOS","x":19.63,"y":1.0087},{"s":"EOS","x":19.78,"y":1.0068},{"s":"EOS","x":19.89,"y":1.0053},{"s":"EOS","x":20.01,"y":1.0051},
{"s":"SV","x":2.0,"y":1.0},{"s":"SV","x":2.51,"y":1.0},{"s":"SV","x":2.58,"y":0.9969},{"s":"SV","x":2.86,"y":0.9958},{"s":"SV","x":3.13,"y":0.9952},{"s":"SV","x":3.44,"y":0.9949},{"s":"SV","x":3.77,"y":0.9964},{"s":"SV","x":4.04,"y":0.998},{"s":"SV","x":4.32,"y":0.9985},{"s":"SV","x":4.59,"y":0.9976},{"s":"SV","x":4.86,"y":0.9962},{"s":"SV","x":5.14,"y":0.9961},{"s":"SV","x":5.41,"y":0.9968},{"s":"SV","x":5.68,"y":0.9973},{"s":"SV","x":5.87,"y":0.9976},{"s":"SV","x":6.05,"y":0.9969},{"s":"SV","x":6.23,"y":0.9953},{"s":"SV","x":6.5,"y":0.9934},{"s":"SV","x":6.78,"y":0.9917},{"s":"SV","x":7.04,"y":0.9906},{"s":"SV","x":7.41,"y":0.9909},{"s":"SV","x":7.78,"y":0.9918},{"s":"SV","x":8.05,"y":0.9913},{"s":"SV","x":8.33,"y":0.9902},{"s":"SV","x":8.6,"y":0.9886},{"s":"SV","x":8.87,"y":0.9868},{"s":"SV","x":9.15,"y":0.9849},{"s":"SV","x":9.42,"y":0.9832},{"s":"SV","x":9.69,"y":0.9827},{"s":"SV","x":9.97,"y":0.9829},{"s":"SV","x":10.15,"y":0.9816},{"s":"SV","x":10.3,"y":0.9788},{"s":"SV","x":10.48,"y":0.9773},{"s":"SV","x":10.71,"y":0.9758},{"s":"SV","x":10.89,"y":0.9746},{"s":"SV","x":11.04,"y":0.9745},{"s":"SV","x":11.16,"y":0.9719},{"s":"SV","x":11.33,"y":0.97},{"s":"SV","x":11.51,"y":0.9692},{"s":"SV","x":11.7,"y":0.9692},{"s":"SV","x":11.79,"y":0.9683},{"s":"SV","x":11.88,"y":0.9715},{"s":"SV","x":12.06,"y":0.976},{"s":"SV","x":12.19,"y":0.969},{"s":"SV","x":12.3,"y":0.9718},{"s":"SV","x":12.37,"y":0.9697},{"s":"SV","x":12.48,"y":0.9729},{"s":"SV","x":12.61,"y":0.9724},{"s":"SV","x":12.74,"y":0.976},{"s":"SV","x":12.88,"y":0.981},{"s":"SV","x":13.01,"y":0.982},{"s":"SV","x":13.14,"y":0.9815},{"s":"SV","x":13.25,"y":0.9747},{"s":"SV","x":13.34,"y":0.9688},{"s":"SV","x":13.52,"y":0.967},{"s":"SV","x":13.65,"y":0.9666},{"s":"SV","x":13.76,"y":0.9647},{"s":"SV","x":13.89,"y":0.9629},{"s":"SV","x":14.01,"y":0.9632},{"s":"SV","x":14.12,"y":0.9647},{"s":"SV","x":14.25,"y":0.9621},{"s":"SV","x":14.38,"y":0.9684},{"s":"SV","x":14.52,"y":0.9684},{"s":"SV","x":14.67,"y":0.9651},{"s":"SV","x":14.8,"y":0.9667},{"s":"SV","x":14.89,"y":0.9629},{"s":"SV","x":15.04,"y":0.9625},{"s":"SV","x":15.16,"y":0.9666},{"s":"SV","x":15.29,"y":0.9659},{"s":"SV","x":15.44,"y":0.9647},{"s":"SV","x":15.58,"y":0.9655},{"s":"SV","x":15.71,"y":0.961},{"s":"SV","x":15.8,"y":0.9614},{"s":"SV","x":15.89,"y":0.9603},{"s":"SV","x":16.02,"y":0.9592},{"s":"SV","x":16.17,"y":0.959},{"s":"SV","x":16.31,"y":0.9581},{"s":"SV","x":16.44,"y":0.9576},{"s":"SV","x":16.57,"y":0.9621},{"s":"SV","x":16.71,"y":0.961},{"s":"SV","x":16.86,"y":0.9588},{"s":"SV","x":16.99,"y":0.9568},{"s":"SV","x":17.11,"y":0.9621},{"s":"SV","x":17.26,"y":0.9651},{"s":"SV","x":17.37,"y":0.9675},{"s":"SV","x":17.48,"y":0.9651},{"s":"SV","x":17.62,"y":0.9647},{"s":"SV","x":17.81,"y":0.9633},{"s":"SV","x":17.95,"y":0.9644},{"s":"SV","x":18.08,"y":0.9666},{"s":"SV","x":18.26,"y":0.9684},{"s":"SV","x":18.39,"y":0.9704},{"s":"SV","x":18.57,"y":0.9699},{"s":"SV","x":18.72,"y":0.969},{"s":"SV","x":18.9,"y":0.9699},{"s":"SV","x":19.08,"y":0.969},{"s":"SV","x":19.27,"y":0.9704},{"s":"SV","x":19.45,"y":0.97},{"s":"SV","x":19.63,"y":0.9714},{"s":"SV","x":19.81,"y":0.9723},{"s":"SV","x":20.01,"y":0.9725},
{"s":"BOS","x":2.0,"y":1.0},{"s":"BOS","x":2.51,"y":1.0},{"s":"BOS","x":2.58,"y":0.9969},{"s":"BOS","x":2.86,"y":0.996},{"s":"BOS","x":3.13,"y":0.9955},{"s":"BOS","x":3.44,"y":0.9951},{"s":"BOS","x":3.77,"y":0.9968},{"s":"BOS","x":4.04,"y":0.9984},{"s":"BOS","x":4.32,"y":0.9989},{"s":"BOS","x":4.59,"y":0.9979},{"s":"BOS","x":4.86,"y":0.9964},{"s":"BOS","x":5.14,"y":0.9962},{"s":"BOS","x":5.41,"y":0.9971},{"s":"BOS","x":5.68,"y":0.9976},{"s":"BOS","x":5.87,"y":0.9979},{"s":"BOS","x":6.05,"y":0.9971},{"s":"BOS","x":6.23,"y":0.9953},{"s":"BOS","x":6.5,"y":0.9934},{"s":"BOS","x":6.78,"y":0.9916},{"s":"BOS","x":7.04,"y":0.9905},{"s":"BOS","x":7.41,"y":0.9909},{"s":"BOS","x":7.78,"y":0.9918},{"s":"BOS","x":8.05,"y":0.9913},{"s":"BOS","x":8.33,"y":0.9901},{"s":"BOS","x":8.6,"y":0.9883},{"s":"BOS","x":8.87,"y":0.9864},{"s":"BOS","x":9.15,"y":0.9842},{"s":"BOS","x":9.42,"y":0.9824},{"s":"BOS","x":9.69,"y":0.9818},{"s":"BOS","x":9.97,"y":0.982},{"s":"BOS","x":10.15,"y":0.9805},{"s":"BOS","x":10.3,"y":0.9776},{"s":"BOS","x":10.48,"y":0.9761},{"s":"BOS","x":10.71,"y":0.9746},{"s":"BOS","x":10.89,"y":0.9733},{"s":"BOS","x":11.04,"y":0.9731},{"s":"BOS","x":11.16,"y":0.9705},{"s":"BOS","x":11.33,"y":0.9684},{"s":"BOS","x":11.51,"y":0.9676},{"s":"BOS","x":11.7,"y":0.9676},{"s":"BOS","x":11.79,"y":0.9664},{"s":"BOS","x":11.88,"y":0.9687},{"s":"BOS","x":12.06,"y":0.9742},{"s":"BOS","x":12.19,"y":0.9672},{"s":"BOS","x":12.3,"y":0.9699},{"s":"BOS","x":12.37,"y":0.9677},{"s":"BOS","x":12.48,"y":0.9709},{"s":"BOS","x":12.61,"y":0.9704},{"s":"BOS","x":12.74,"y":0.9742},{"s":"BOS","x":12.88,"y":0.979},{"s":"BOS","x":13.01,"y":0.9801},{"s":"BOS","x":13.14,"y":0.9794},{"s":"BOS","x":13.25,"y":0.9727},{"s":"BOS","x":13.34,"y":0.9668},{"s":"BOS","x":13.52,"y":0.965},{"s":"BOS","x":13.65,"y":0.9646},{"s":"BOS","x":13.76,"y":0.9627},{"s":"BOS","x":13.89,"y":0.9609},{"s":"BOS","x":14.01,"y":0.9612},{"s":"BOS","x":14.12,"y":0.9627},{"s":"BOS","x":14.25,"y":0.9601},{"s":"BOS","x":14.38,"y":0.9664},{"s":"BOS","x":14.52,"y":0.9664},{"s":"BOS","x":14.67,"y":0.9631},{"s":"BOS","x":14.8,"y":0.9647},{"s":"BOS","x":14.89,"y":0.9609},{"s":"BOS","x":15.04,"y":0.9605},{"s":"BOS","x":15.16,"y":0.9646},{"s":"BOS","x":15.29,"y":0.9639},{"s":"BOS","x":15.44,"y":0.9627},{"s":"BOS","x":15.58,"y":0.9635},{"s":"BOS","x":15.71,"y":0.959},{"s":"BOS","x":15.8,"y":0.9594},{"s":"BOS","x":15.89,"y":0.9583},{"s":"BOS","x":16.02,"y":0.9572},{"s":"BOS","x":16.17,"y":0.957},{"s":"BOS","x":16.31,"y":0.9561},{"s":"BOS","x":16.44,"y":0.9556},{"s":"BOS","x":16.57,"y":0.9601},{"s":"BOS","x":16.71,"y":0.959},{"s":"BOS","x":16.86,"y":0.9568},{"s":"BOS","x":16.99,"y":0.9548},{"s":"BOS","x":17.11,"y":0.9601},{"s":"BOS","x":17.26,"y":0.9631},{"s":"BOS","x":17.37,"y":0.9655},{"s":"BOS","x":17.48,"y":0.9631},{"s":"BOS","x":17.62,"y":0.9627},{"s":"BOS","x":17.81,"y":0.9613},{"s":"BOS","x":17.95,"y":0.9624},{"s":"BOS","x":18.08,"y":0.9646},{"s":"BOS","x":18.26,"y":0.9664},{"s":"BOS","x":18.39,"y":0.9683},{"s":"BOS","x":18.57,"y":0.9677},{"s":"BOS","x":18.72,"y":0.9667},{"s":"BOS","x":18.9,"y":0.9676},{"s":"BOS","x":19.08,"y":0.9667},{"s":"BOS","x":19.27,"y":0.9681},{"s":"BOS","x":19.45,"y":0.9676},{"s":"BOS","x":19.63,"y":0.969},{"s":"BOS","x":19.81,"y":0.9699},{"s":"BOS","x":20.01,"y":0.9701}
]
},
"columns":2,
"bounds":"flush",
"center":true,
"spacing":{"row":348.7,"column":529.5},
"resolve":{"scale":{"color":"independent"},"legend":{"color":"independent"}},
"concat":[
{
"width":1232,"height":1071,
"title":{"text":"(a)","anchor":"start","frame":"group","dx":-239,"dy":102,"offset":48,"baseline":"alphabetic","fontSize":114,"fontWeight":"normal","font":"Liberation Sans","color":"#000000"},
"layer":[
{"data":{"name":"a_dot"},"mark":{"type":"line","strokeWidth":5,"strokeDash":[5,11],"strokeJoin":"round"},
"encoding":{
"x":{"field":"x","type":"quantitative","scale":{"domain":[1.5,22.5],"nice":false,"zero":false},"axis":{"orient":"top","values":[2,4,6,8,10,12,14,16,18,20,22],"tickSize":-21,"labels":false,"title":null}},
"y":{"field":"y","type":"quantitative","scale":{"domain":[0.556,2.2445],"nice":false,"zero":false},"axis":{"orient":"right","values":[1.0,1.5,2.0],"tickSize":-24,"labels":false,"title":null}},
"color":{"field":"s","type":"nominal","scale":{"domain":["SD","SV","Nadir","BOS","EOS"],"range":["#000000","#FF0000","#00FF00","#0000FF","#FF00FF"]},
"legend":{"orient":"none","legendX":854,"legendY":641,"title":null,"symbolType":"stroke","symbolSize":11664,"symbolStrokeWidth":11,"labelFont":"Liberation Sans","labelFontSize":53,"labelFontWeight":"bold","labelColor":"#000000","labelOffset":52,"labelBaseline":"alphabetic","clipHeight":74,"rowPadding":0,"padding":0,
"encode":{"symbols":{"update":{"stroke":{"signal":"datum.value === 'Nadir' ? '#6FD240' : datum.value === 'BOS' ? '#0070C0' : datum.value === 'EOS' ? '#FF40FF' : datum.value === 'SV' ? '#FF0000' : '#000000'"},"strokeDash":{"value":[]},"strokeWidth":{"value":11},"opacity":{"value":1}}}}}}
}},
{"data":{"name":"a_solid"},"mark":{"type":"line","strokeWidth":5,"strokeJoin":"round"},
"encoding":{
"x":{"field":"x","type":"quantitative","scale":{"domain":[1.5,22.5],"nice":false,"zero":false},"axis":{"orient":"bottom","values":[2,4,6,8,10,12,14,16,18,20,22],"tickSize":-21,"labelPadding":59,"labelExpr":"(datum.value < 10 ? '0' : '') + datum.value","title":"Year since 2000","titleX":644,"titleY":227,"titleAlign":"center","titleBaseline":"alphabetic","titleFontSize":86}},
"y":{"field":"y","type":"quantitative","scale":{"domain":[0.556,2.2445],"nice":false,"zero":false},"axis":{"orient":"left","values":[1.0,1.5,2.0],"format":".1f","tickSize":-24,"labelPadding":46,"title":"(m1/RVS) / m1_t0","titleX":-122,"titleY":584,"titleAngle":270,"titleAlign":"center","titleBaseline":"bottom"}},
"color":{"field":"s","type":"nominal","scale":{"domain":["SD","SV","Nadir","BOS","EOS"],"range":["#000000","#FF0000","#00FF00","#0000FF","#FF00FF"]},
"legend":{"orient":"none","legendX":854,"legendY":641,"title":null,"symbolType":"stroke","symbolSize":11664,"symbolStrokeWidth":11,"labelFont":"Liberation Sans","labelFontSize":53,"labelFontWeight":"bold","labelColor":"#000000","labelOffset":52,"labelBaseline":"alphabetic","clipHeight":74,"rowPadding":0,"padding":0,
"encode":{"symbols":{"update":{"stroke":{"signal":"datum.value === 'Nadir' ? '#6FD240' : datum.value === 'BOS' ? '#0070C0' : datum.value === 'EOS' ? '#FF40FF' : datum.value === 'SV' ? '#FF0000' : '#000000'"},"strokeDash":{"value":[]},"strokeWidth":{"value":11},"opacity":{"value":1}}}}}}
}},
{"data":{"values":[]},"mark":{"type":"line"},
"encoding":{
"x":{"field":"x","type":"quantitative","scale":{"domain":[1.5,22.5],"nice":false,"zero":false},"axis":null},
"y":{"field":"y","type":"quantitative","scale":{"domain":[0.556,2.2445],"nice":false,"zero":false},"axis":{"orient":"left","values":[0.6,0.7,0.8,0.9,1.0,1.1,1.2,1.3,1.4,1.5,1.6,1.7,1.8,1.9,2.0,2.1,2.2],"tickSize":-12,"labels":false,"title":null}}
}},
{"data":{"values":[]},"mark":{"type":"line"},
"encoding":{
"x":{"field":"x","type":"quantitative","scale":{"domain":[1.5,22.5],"nice":false,"zero":false},"axis":null},
"y":{"field":"y","type":"quantitative","scale":{"domain":[0.556,2.2445],"nice":false,"zero":false},"axis":{"orient":"right","values":[0.6,0.7,0.8,0.9,1.0,1.1,1.2,1.3,1.4,1.5,1.6,1.7,1.8,1.9,2.0,2.1,2.2],"tickSize":-12,"labels":false,"title":null}}
}}
],
"resolve":{"axis":{"x":"independent","y":"independent"}}
},
{
"width":1232,"height":1071,
"title":{"text":"(b)","anchor":"start","frame":"group","dx":-316.5,"dy":102,"offset":48,"baseline":"alphabetic","fontSize":114,"fontWeight":"normal","font":"Liberation Sans","color":"#000000"},
"layer":[
{"data":{"name":"b_dot"},"mark":{"type":"line","strokeWidth":5,"strokeDash":[5,11],"strokeJoin":"round"},
"encoding":{
"x":{"field":"x","type":"quantitative","scale":{"domain":[1.5,22.5],"nice":false,"zero":false},"axis":{"orient":"top","values":[2,4,6,8,10,12,14,16,18,20,22],"tickSize":-21,"labels":false,"title":null}},
"y":{"field":"y","type":"quantitative","scale":{"domain":[0.6728,1.23],"nice":false,"zero":false},"axis":{"orient":"right","values":[0.7,0.8,0.9,1.0,1.1,1.2],"tickSize":-24,"labels":false,"title":null}},
"color":{"field":"s","type":"nominal","scale":{"domain":["SD","SV","Nadir","BOS","EOS"],"range":["#000000","#FF0000","#00FF00","#0000FF","#FF00FF"]},"legend":null}
}},
{"data":{"name":"b_solid"},"mark":{"type":"line","strokeWidth":5,"strokeJoin":"round"},
"encoding":{
"x":{"field":"x","type":"quantitative","scale":{"domain":[1.5,22.5],"nice":false,"zero":false},"axis":{"orient":"bottom","values":[2,4,6,8,10,12,14,16,18,20,22],"tickSize":-21,"labelPadding":59,"labelExpr":"(datum.value < 10 ? '0' : '') + datum.value","title":"Year since 2000","titleX":658.5,"titleY":225,"titleAlign":"center","titleBaseline":"alphabetic","titleFontSize":86}},
"y":{"field":"y","type":"quantitative","scale":{"domain":[0.6728,1.23],"nice":false,"zero":false},"axis":{"orient":"left","values":[0.7,0.8,0.9,1.0,1.1,1.2],"format":".1f","tickSize":-24,"labelPadding":46,"title":"RVS","titleX":-173.5,"titleY":535,"titleAngle":270,"titleAlign":"center","titleBaseline":"bottom"}},
"color":{"field":"s","type":"nominal","scale":{"domain":["SD","SV","Nadir","BOS","EOS"],"range":["#000000","#FF0000","#00FF00","#0000FF","#FF00FF"]},"legend":null}
}},
{"data":{"values":[]},"mark":{"type":"line"},
"encoding":{
"x":{"field":"x","type":"quantitative","scale":{"domain":[1.5,22.5],"nice":false,"zero":false},"axis":null},
"y":{"field":"y","type":"quantitative","scale":{"domain":[0.6728,1.23],"nice":false,"zero":false},"axis":{"orient":"left","values":[0.68,0.69,0.7,0.71,0.72,0.73,0.74,0.75,0.76,0.77,0.78,0.79,0.8,0.81,0.82,0.83,0.84,0.85,0.86,0.87,0.88,0.89,0.9,0.91,0.92,0.93,0.94,0.95,0.96,0.97,0.98,0.99,1.0,1.01,1.02,1.03,1.04,1.05,1.06,1.07,1.08,1.09,1.1,1.11,1.12,1.13,1.14,1.15,1.16,1.17,1.18,1.19,1.2,1.21,1.22],"tickSize":-12,"labels":false,"title":null}}
}},
{"data":{"values":[]},"mark":{"type":"line"},
"encoding":{
"x":{"field":"x","type":"quantitative","scale":{"domain":[1.5,22.5],"nice":false,"zero":false},"axis":null},
"y":{"field":"y","type":"quantitative","scale":{"domain":[0.6728,1.23],"nice":false,"zero":false},"axis":{"orient":"right","values":[0.68,0.69,0.7,0.71,0.72,0.73,0.74,0.75,0.76,0.77,0.78,0.79,0.8,0.81,0.82,0.83,0.84,0.85,0.86,0.87,0.88,0.89,0.9,0.91,0.92,0.93,0.94,0.95,0.96,0.97,0.98,0.99,1.0,1.01,1.02,1.03,1.04,1.05,1.06,1.07,1.08,1.09,1.1,1.11,1.12,1.13,1.14,1.15,1.16,1.17,1.18,1.19,1.2,1.21,1.22],"tickSize":-12,"labels":false,"title":null}}
}}
],
"resolve":{"axis":{"x":"independent","y":"independent"}}
},
{
"width":1213,"height":1055,
"title":{"text":"(c)","anchor":"start","frame":"group","dx":-216.5,"dy":118,"offset":98,"baseline":"alphabetic","fontSize":114,"fontWeight":"normal","font":"Liberation Sans","color":"#000000"},
"layer":[
{"data":{"values":[]},"mark":{"type":"line"},
"encoding":{
"x":{"field":"x","type":"quantitative","scale":{"domain":[1.5,22.5],"nice":false,"zero":false},"axis":{"orient":"top","values":[2,4,6,8,10,12,14,16,18,20,22],"tickSize":-21,"labels":false,"title":null}},
"y":{"field":"y","type":"quantitative","scale":{"domain":[0.9461,1.0479],"nice":false,"zero":false},"axis":{"orient":"right","values":[0.96,0.98,1.0,1.02,1.04],"tickSize":-24,"labels":false,"title":null}}
}},
{"data":{"name":"c"},"mark":{"type":"line","strokeWidth":5,"strokeJoin":"round"},
"encoding":{
"x":{"field":"x","type":"quantitative","scale":{"domain":[1.5,22.5],"nice":false,"zero":false},"axis":{"orient":"bottom","values":[2,4,6,8,10,12,14,16,18,20,22],"tickSize":-21,"labelPadding":59,"labelExpr":"(datum.value < 10 ? '0' : '') + datum.value","title":"Year since 2000","titleX":636,"titleY":231,"titleAlign":"center","titleBaseline":"alphabetic","titleFontSize":86}},
"y":{"field":"y","type":"quantitative","scale":{"domain":[0.9461,1.0479],"nice":false,"zero":false},"axis":{"orient":"left","values":[0.96,0.98,1.0,1.02,1.04],"format":".2f","tickSize":-24,"labelPadding":47,"title":"m1 (OBPG/MCST)","titleX":-204,"titleY":516,"titleAngle":270,"titleAlign":"center","titleBaseline":"bottom"}},
"color":{"field":"s","type":"nominal","scale":{"domain":["SD","SV","Nadir","BOS","EOS"],"range":["#000000","#FF0000","#00FF00","#0000FF","#FF00FF"]},"legend":null}
}},
{"data":{"values":[]},"mark":{"type":"line"},
"encoding":{
"x":{"field":"x","type":"quantitative","scale":{"domain":[1.5,22.5],"nice":false,"zero":false},"axis":null},
"y":{"field":"y","type":"quantitative","scale":{"domain":[0.9461,1.0479],"nice":false,"zero":false},"axis":{"orient":"left","values":[0.95,0.955,0.96,0.965,0.97,0.975,0.98,0.985,0.99,0.995,1.0,1.005,1.01,1.015,1.02,1.025,1.03,1.035,1.04,1.045],"tickSize":-12,"labels":false,"title":null}}
}},
{"data":{"values":[]},"mark":{"type":"line"},
"encoding":{
"x":{"field":"x","type":"quantitative","scale":{"domain":[1.5,22.5],"nice":false,"zero":false},"axis":null},
"y":{"field":"y","type":"quantitative","scale":{"domain":[0.9461,1.0479],"nice":false,"zero":false},"axis":{"orient":"right","values":[0.95,0.955,0.96,0.965,0.97,0.975,0.98,0.985,0.99,0.995,1.0,1.005,1.01,1.015,1.02,1.025,1.03,1.035,1.04,1.045],"tickSize":-12,"labels":false,"title":null}}
}}
],
"resolve":{"axis":{"x":"independent","y":"independent"}}
},
{
"width":1244,"height":1077,
"title":{"text":"(d)","anchor":"start","frame":"group","dx":-278.5,"dy":118,"offset":87,"baseline":"alphabetic","fontSize":114,"fontWeight":"normal","font":"Liberation Sans","color":"#000000"},
"layer":[
{"data":{"values":[]},"mark":{"type":"line"},
"encoding":{
"x":{"field":"x","type":"quantitative","scale":{"domain":[1.5,22.5],"nice":false,"zero":false},"axis":{"orient":"top","values":[2,4,6,8,10,12,14,16,18,20,22],"tickSize":-21,"labels":false,"title":null}},
"y":{"field":"y","type":"quantitative","scale":{"domain":[0.95265,1.03814],"nice":false,"zero":false},"axis":{"orient":"right","values":[0.96,0.98,1.0,1.02],"tickSize":-24,"labels":false,"title":null}}
}},
{"data":{"name":"d"},"mark":{"type":"line","strokeWidth":5,"strokeJoin":"round"},
"encoding":{
"x":{"field":"x","type":"quantitative","scale":{"domain":[1.5,22.5],"nice":false,"zero":false},"axis":{"orient":"bottom","values":[2,4,6,8,10,12,14,16,18,20,22],"tickSize":-21,"labelPadding":59,"labelExpr":"(datum.value < 10 ? '0' : '') + datum.value","title":"Year since 2000","titleX":664.5,"titleY":219,"titleAlign":"center","titleBaseline":"alphabetic","titleFontSize":86}},
"y":{"field":"y","type":"quantitative","scale":{"domain":[0.95265,1.03814],"nice":false,"zero":false},"axis":{"orient":"left","values":[0.96,0.98,1.0,1.02],"format":".2f","tickSize":-24,"labelPadding":48,"title":"RVS (OBPG/MCST)","titleX":-177,"titleY":546,"titleAngle":270,"titleAlign":"center","titleBaseline":"bottom"}},
"color":{"field":"s","type":"nominal","scale":{"domain":["SD","SV","Nadir","BOS","EOS"],"range":["#000000","#FF0000","#00FF00","#0000FF","#FF00FF"]},"legend":null}
}},
{"data":{"values":[]},"mark":{"type":"line"},
"encoding":{
"x":{"field":"x","type":"quantitative","scale":{"domain":[1.5,22.5],"nice":false,"zero":false},"axis":null},
"y":{"field":"y","type":"quantitative","scale":{"domain":[0.95265,1.03814],"nice":false,"zero":false},"axis":{"orient":"left","values":[0.955,0.96,0.965,0.97,0.975,0.98,0.985,0.99,0.995,1.0,1.005,1.01,1.015,1.02,1.025,1.03,1.035],"tickSize":-12,"labels":false,"title":null}}
}},
{"data":{"values":[]},"mark":{"type":"line"},
"encoding":{
"x":{"field":"x","type":"quantitative","scale":{"domain":[1.5,22.5],"nice":false,"zero":false},"axis":null},
"y":{"field":"y","type":"quantitative","scale":{"domain":[0.95265,1.03814],"nice":false,"zero":false},"axis":{"orient":"right","values":[0.955,0.96,0.965,0.97,0.975,0.98,0.985,0.99,0.995,1.0,1.005,1.01,1.015,1.02,1.025,1.03,1.035],"tickSize":-12,"labels":false,"title":null}}
}}
],
"resolve":{"axis":{"x":"independent","y":"independent"}}
}
],
"config":{
"view":{"stroke":"#222222","strokeWidth":2},
"axis":{"grid":false,"domain":false,"ticks":true,"tickColor":"#222222","tickWidth":2,"labelFont":"Liberation Sans","labelFontSize":76,"labelFontWeight":"bold","labelColor":"#000000","labelFlush":false,"labelOverlap":false,"labelBound":false,"titleFont":"Liberation Sans","titleFontWeight":"bold","titleFontSize":76,"titleColor":"#000000"}
}
}
